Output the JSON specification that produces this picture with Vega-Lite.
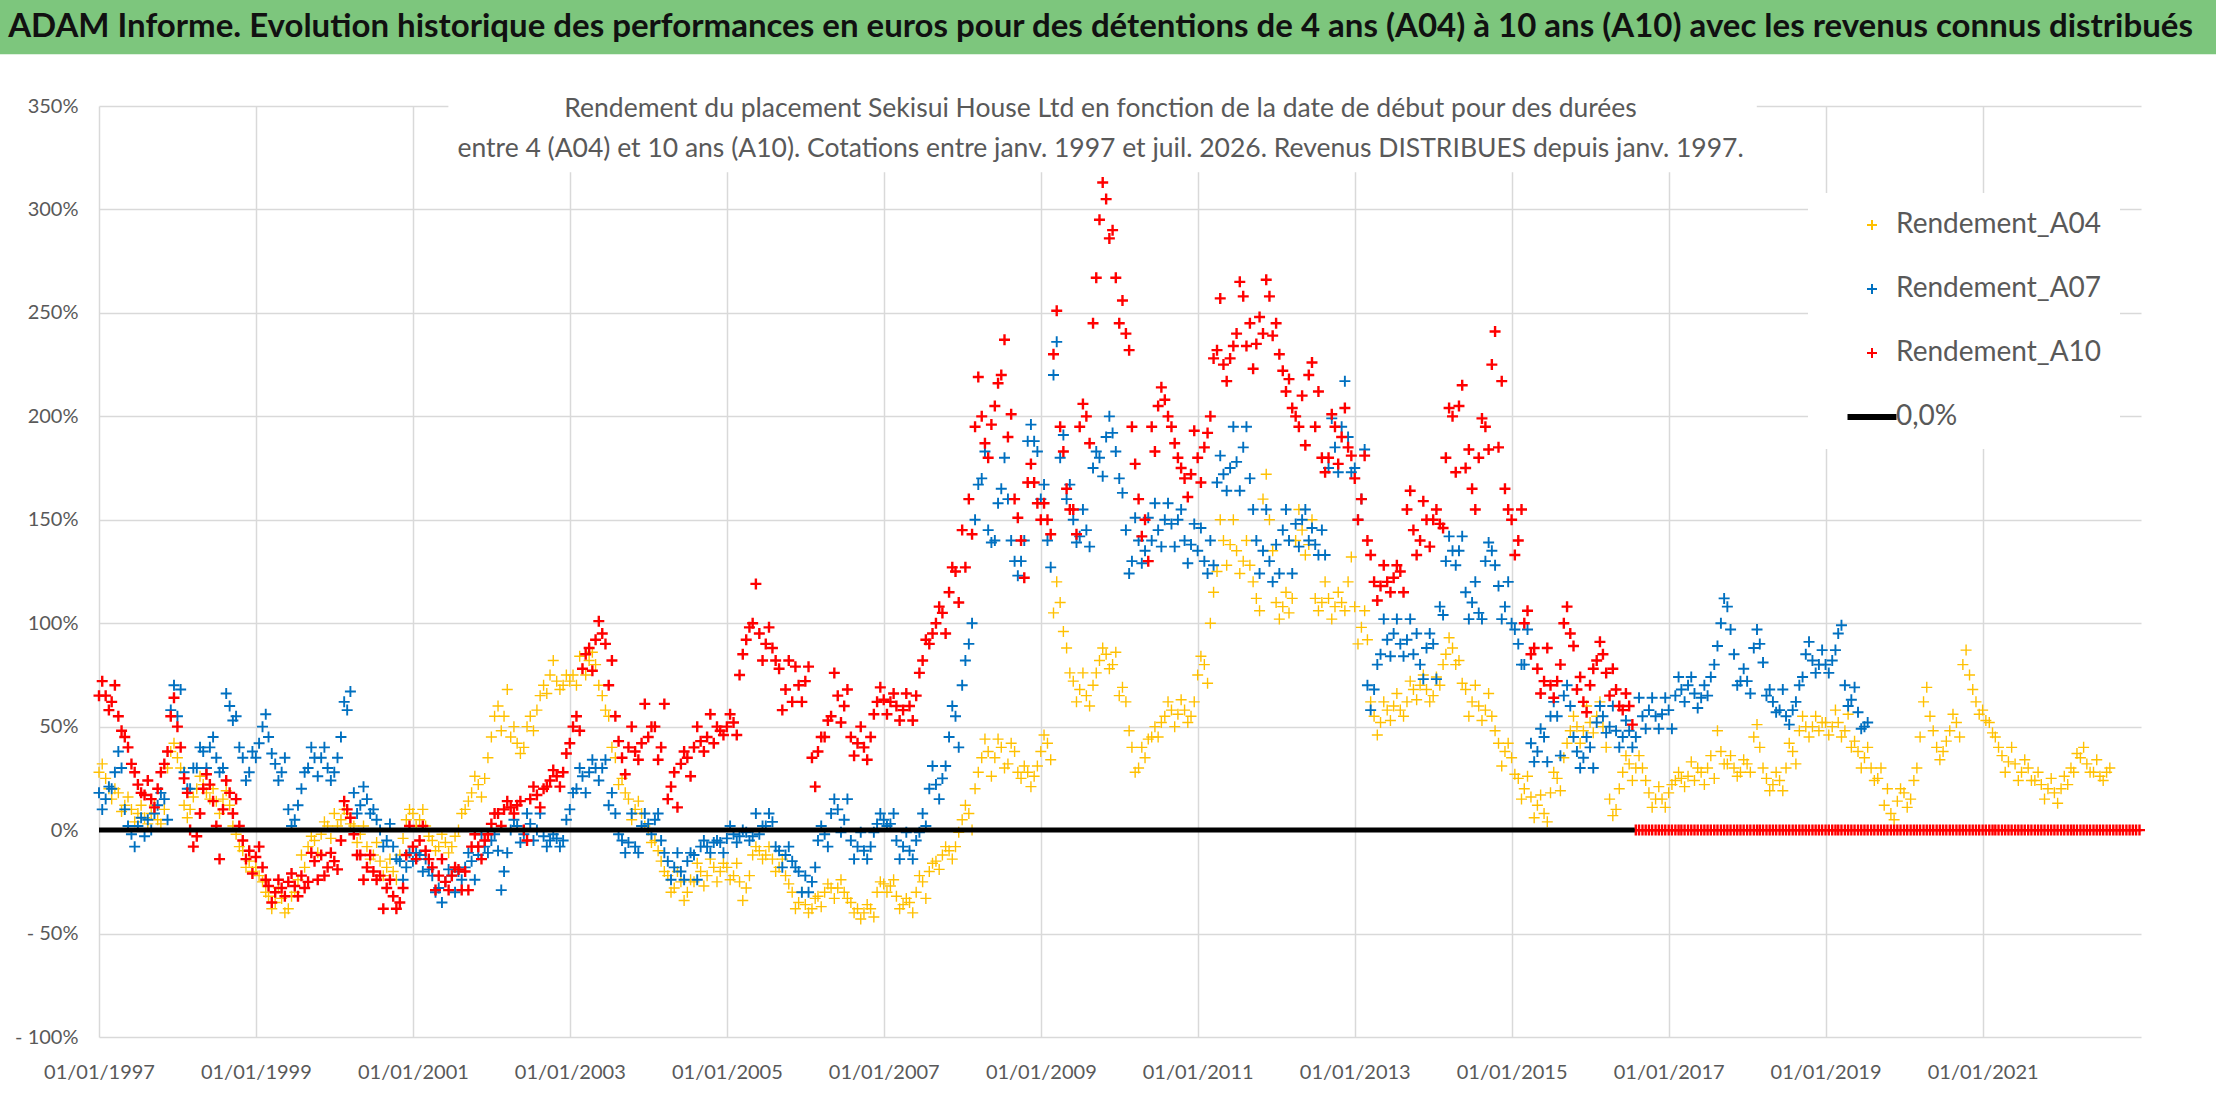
{
  "$schema": "https://vega.github.io/schema/vega-lite/v6.json",
  "width": 2042,
  "height": 931,
  "autosize": {"type": "none"},
  "padding": {"left": 99, "top": 106, "right": 75, "bottom": 65},
  "background": "white",
  "config": {"view": {"stroke": null}, "font": "Lato"},
  "layer": [
    {
      "data": {"values": [{}]},
      "mark": {"type": "rect", "color": "#7DC67D"},
      "encoding": {
        "x": {"datum": {"year": 1994, "month": 1, "date": 1}, "type": "temporal"},
        "x2": {"datum": {"year": 2026, "month": 1, "date": 1}},
        "y": {"datum": 430, "type": "quantitative"},
        "y2": {"datum": 375}
      }
    },
    {
      "data": {"values": [{}]},
      "mark": {"type": "text", "font": "Lato", "fontWeight": "bold", "fontSize": 33, "color": "#111111", "align": "center", "baseline": "middle"},
      "encoding": {
        "x": {"datum": {"year": 2009, "month": 10, "date": 6}, "type": "temporal"},
        "y": {"datum": 388, "type": "quantitative"},
        "text": {"value": "ADAM Informe. Evolution historique des performances en euros pour des détentions de 4 ans (A04) à 10 ans (A10) avec les revenus connus distribués"}
      }
    },
    {
      "data": {"values": [{}]},
      "mark": {"type": "rect", "color": "white"},
      "encoding": {
        "x": {"datum": {"year": 2001, "month": 6, "date": 15}, "type": "temporal"},
        "x2": {"datum": {"year": 2018, "month": 2, "date": 15}},
        "y": {"datum": 356, "type": "quantitative"},
        "y2": {"datum": 318}
      }
    },
    {
      "data": {"values": [{}]},
      "mark": {"type": "text", "font": "Lato", "fontSize": 26.5, "color": "#595959", "align": "center", "baseline": "middle", "lineHeight": 40},
      "encoding": {
        "x": {"datum": {"year": 2009, "month": 10, "date": 6}, "type": "temporal"},
        "y": {"datum": 348.7, "type": "quantitative"},
        "text": {"value": ["Rendement du placement Sekisui House Ltd en fonction de la date de début pour des durées", "entre 4 (A04) et 10 ans (A10). Cotations entre janv. 1997 et juil. 2026. Revenus DISTRIBUES depuis janv. 1997."]}
      }
    },
    {
      "data": {"values": [
{"s":"A04","d":"1997-01","v":28},{"s":"A04","d":"1997-02","v":25},{"s":"A04","d":"1997-03","v":15},{"s":"A04","d":"1997-04","v":18},{"s":"A04","d":"1997-05","v":12},{"s":"A04","d":"1997-06","v":10},{"s":"A04","d":"1997-07","v":8},{"s":"A04","d":"1997-08","v":6},{"s":"A04","d":"1997-09","v":8},{"s":"A04","d":"1997-10","v":5},{"s":"A04","d":"1997-11","v":10},{"s":"A04","d":"1997-12","v":38},
{"s":"A04","d":"1998-01","v":35},{"s":"A04","d":"1998-02","v":12},{"s":"A04","d":"1998-03","v":10},{"s":"A04","d":"1998-04","v":20},{"s":"A04","d":"1998-05","v":22},{"s":"A04","d":"1998-06","v":15},{"s":"A04","d":"1998-07","v":14},{"s":"A04","d":"1998-08","v":15},{"s":"A04","d":"1998-09","v":12},{"s":"A04","d":"1998-10","v":-2},{"s":"A04","d":"1998-11","v":-10},{"s":"A04","d":"1998-12","v":-15},
{"s":"A04","d":"1999-01","v":-18},{"s":"A04","d":"1999-02","v":-25},{"s":"A04","d":"1999-03","v":-32},{"s":"A04","d":"1999-04","v":-35},{"s":"A04","d":"1999-05","v":-33},{"s":"A04","d":"1999-06","v":-38},{"s":"A04","d":"1999-07","v":-30},{"s":"A04","d":"1999-08","v":-12},{"s":"A04","d":"1999-09","v":-8},{"s":"A04","d":"1999-10","v":-5},{"s":"A04","d":"1999-11","v":-2},{"s":"A04","d":"1999-12","v":2},
{"s":"A04","d":"2000-01","v":8},{"s":"A04","d":"2000-02","v":5},{"s":"A04","d":"2000-03","v":8},{"s":"A04","d":"2000-04","v":2},{"s":"A04","d":"2000-05","v":-2},{"s":"A04","d":"2000-06","v":-8},{"s":"A04","d":"2000-07","v":-12},{"s":"A04","d":"2000-08","v":-15},{"s":"A04","d":"2000-09","v":-18},{"s":"A04","d":"2000-10","v":-20},{"s":"A04","d":"2000-11","v":-12},{"s":"A04","d":"2000-12","v":5},
{"s":"A04","d":"2001-01","v":8},{"s":"A04","d":"2001-02","v":5},{"s":"A04","d":"2001-03","v":2},{"s":"A04","d":"2001-04","v":-5},{"s":"A04","d":"2001-05","v":-8},{"s":"A04","d":"2001-06","v":-6},{"s":"A04","d":"2001-07","v":-8},{"s":"A04","d":"2001-08","v":0},{"s":"A04","d":"2001-09","v":10},{"s":"A04","d":"2001-10","v":18},{"s":"A04","d":"2001-11","v":22},{"s":"A04","d":"2001-12","v":25},
{"s":"A04","d":"2002-01","v":45},{"s":"A04","d":"2002-02","v":60},{"s":"A04","d":"2002-03","v":55},{"s":"A04","d":"2002-04","v":45},{"s":"A04","d":"2002-05","v":42},{"s":"A04","d":"2002-06","v":40},{"s":"A04","d":"2002-07","v":55},{"s":"A04","d":"2002-08","v":58},{"s":"A04","d":"2002-09","v":70},{"s":"A04","d":"2002-10","v":75},{"s":"A04","d":"2002-11","v":72},{"s":"A04","d":"2002-12","v":70},
{"s":"A04","d":"2003-01","v":72},{"s":"A04","d":"2003-02","v":70},{"s":"A04","d":"2003-03","v":78},{"s":"A04","d":"2003-04","v":82},{"s":"A04","d":"2003-05","v":80},{"s":"A04","d":"2003-06","v":65},{"s":"A04","d":"2003-07","v":55},{"s":"A04","d":"2003-08","v":35},{"s":"A04","d":"2003-09","v":25},{"s":"A04","d":"2003-10","v":15},{"s":"A04","d":"2003-11","v":10},{"s":"A04","d":"2003-12","v":8},
{"s":"A04","d":"2004-01","v":0},{"s":"A04","d":"2004-02","v":-5},{"s":"A04","d":"2004-03","v":-15},{"s":"A04","d":"2004-04","v":-22},{"s":"A04","d":"2004-05","v":-28},{"s":"A04","d":"2004-06","v":-25},{"s":"A04","d":"2004-07","v":-30},{"s":"A04","d":"2004-08","v":-25},{"s":"A04","d":"2004-09","v":-20},{"s":"A04","d":"2004-10","v":-22},{"s":"A04","d":"2004-11","v":-18},{"s":"A04","d":"2004-12","v":-20},
{"s":"A04","d":"2005-01","v":-18},{"s":"A04","d":"2005-02","v":-22},{"s":"A04","d":"2005-03","v":-25},{"s":"A04","d":"2005-04","v":-28},{"s":"A04","d":"2005-05","v":-12},{"s":"A04","d":"2005-06","v":-10},{"s":"A04","d":"2005-07","v":-12},{"s":"A04","d":"2005-08","v":-14},{"s":"A04","d":"2005-09","v":-18},{"s":"A04","d":"2005-10","v":-22},{"s":"A04","d":"2005-11","v":-30},{"s":"A04","d":"2005-12","v":-35},
{"s":"A04","d":"2006-01","v":-36},{"s":"A04","d":"2006-02","v":-38},{"s":"A04","d":"2006-03","v":-32},{"s":"A04","d":"2006-04","v":-30},{"s":"A04","d":"2006-05","v":-28},{"s":"A04","d":"2006-06","v":-28},{"s":"A04","d":"2006-07","v":-30},{"s":"A04","d":"2006-08","v":-35},{"s":"A04","d":"2006-09","v":-38},{"s":"A04","d":"2006-10","v":-40},{"s":"A04","d":"2006-11","v":-38},{"s":"A04","d":"2006-12","v":-30},
{"s":"A04","d":"2007-01","v":-26},{"s":"A04","d":"2007-02","v":-27},{"s":"A04","d":"2007-03","v":-32},{"s":"A04","d":"2007-04","v":-36},{"s":"A04","d":"2007-05","v":-35},{"s":"A04","d":"2007-06","v":-30},{"s":"A04","d":"2007-07","v":-25},{"s":"A04","d":"2007-08","v":-20},{"s":"A04","d":"2007-09","v":-15},{"s":"A04","d":"2007-10","v":-12},{"s":"A04","d":"2007-11","v":-10},{"s":"A04","d":"2007-12","v":-8},
{"s":"A04","d":"2008-01","v":5},{"s":"A04","d":"2008-02","v":8},{"s":"A04","d":"2008-03","v":20},{"s":"A04","d":"2008-04","v":35},{"s":"A04","d":"2008-05","v":38},{"s":"A04","d":"2008-06","v":35},{"s":"A04","d":"2008-07","v":40},{"s":"A04","d":"2008-08","v":32},{"s":"A04","d":"2008-09","v":38},{"s":"A04","d":"2008-10","v":25},{"s":"A04","d":"2008-11","v":28},{"s":"A04","d":"2008-12","v":26},
{"s":"A04","d":"2009-01","v":38},{"s":"A04","d":"2009-02","v":42},{"s":"A04","d":"2009-03","v":105},{"s":"A04","d":"2009-04","v":110},{"s":"A04","d":"2009-05","v":88},{"s":"A04","d":"2009-06","v":72},{"s":"A04","d":"2009-07","v":68},{"s":"A04","d":"2009-08","v":65},{"s":"A04","d":"2009-09","v":70},{"s":"A04","d":"2009-10","v":82},{"s":"A04","d":"2009-11","v":85},{"s":"A04","d":"2009-12","v":80},
{"s":"A04","d":"2010-01","v":65},{"s":"A04","d":"2010-02","v":62},{"s":"A04","d":"2010-03","v":40},{"s":"A04","d":"2010-04","v":30},{"s":"A04","d":"2010-05","v":35},{"s":"A04","d":"2010-06","v":45},{"s":"A04","d":"2010-07","v":45},{"s":"A04","d":"2010-08","v":55},{"s":"A04","d":"2010-09","v":58},{"s":"A04","d":"2010-10","v":56},{"s":"A04","d":"2010-11","v":58},{"s":"A04","d":"2010-12","v":55},
{"s":"A04","d":"2011-01","v":75},{"s":"A04","d":"2011-02","v":80},{"s":"A04","d":"2011-03","v":100},{"s":"A04","d":"2011-04","v":125},{"s":"A04","d":"2011-05","v":140},{"s":"A04","d":"2011-06","v":138},{"s":"A04","d":"2011-07","v":135},{"s":"A04","d":"2011-08","v":130},{"s":"A04","d":"2011-09","v":128},{"s":"A04","d":"2011-10","v":112},{"s":"A04","d":"2011-11","v":160},{"s":"A04","d":"2011-12","v":150},
{"s":"A04","d":"2012-01","v":110},{"s":"A04","d":"2012-02","v":108},{"s":"A04","d":"2012-03","v":105},{"s":"A04","d":"2012-04","v":140},{"s":"A04","d":"2012-05","v":145},{"s":"A04","d":"2012-06","v":138},{"s":"A04","d":"2012-07","v":112},{"s":"A04","d":"2012-08","v":110},{"s":"A04","d":"2012-09","v":112},{"s":"A04","d":"2012-10","v":108},{"s":"A04","d":"2012-11","v":110},{"s":"A04","d":"2012-12","v":120},
{"s":"A04","d":"2013-01","v":108},{"s":"A04","d":"2013-02","v":98},{"s":"A04","d":"2013-03","v":92},{"s":"A04","d":"2013-04","v":55},{"s":"A04","d":"2013-05","v":52},{"s":"A04","d":"2013-06","v":58},{"s":"A04","d":"2013-07","v":60},{"s":"A04","d":"2013-08","v":58},{"s":"A04","d":"2013-09","v":62},{"s":"A04","d":"2013-10","v":68},{"s":"A04","d":"2013-11","v":70},{"s":"A04","d":"2013-12","v":68},
{"s":"A04","d":"2014-01","v":65},{"s":"A04","d":"2014-02","v":70},{"s":"A04","d":"2014-03","v":85},{"s":"A04","d":"2014-04","v":88},{"s":"A04","d":"2014-05","v":82},{"s":"A04","d":"2014-06","v":68},{"s":"A04","d":"2014-07","v":62},{"s":"A04","d":"2014-08","v":60},{"s":"A04","d":"2014-09","v":58},{"s":"A04","d":"2014-10","v":55},{"s":"A04","d":"2014-11","v":42},{"s":"A04","d":"2014-12","v":38},
{"s":"A04","d":"2015-01","v":35},{"s":"A04","d":"2015-02","v":25},{"s":"A04","d":"2015-03","v":20},{"s":"A04","d":"2015-04","v":16},{"s":"A04","d":"2015-05","v":12},{"s":"A04","d":"2015-06","v":8},{"s":"A04","d":"2015-07","v":18},{"s":"A04","d":"2015-08","v":25},{"s":"A04","d":"2015-09","v":35},{"s":"A04","d":"2015-10","v":48},{"s":"A04","d":"2015-11","v":50},{"s":"A04","d":"2015-12","v":48},
{"s":"A04","d":"2016-01","v":52},{"s":"A04","d":"2016-02","v":55},{"s":"A04","d":"2016-03","v":50},{"s":"A04","d":"2016-04","v":15},{"s":"A04","d":"2016-05","v":10},{"s":"A04","d":"2016-06","v":28},{"s":"A04","d":"2016-07","v":32},{"s":"A04","d":"2016-08","v":30},{"s":"A04","d":"2016-09","v":30},{"s":"A04","d":"2016-10","v":18},{"s":"A04","d":"2016-11","v":15},{"s":"A04","d":"2016-12","v":15},
{"s":"A04","d":"2017-01","v":18},{"s":"A04","d":"2017-02","v":24},{"s":"A04","d":"2017-03","v":25},{"s":"A04","d":"2017-04","v":26},{"s":"A04","d":"2017-05","v":24},{"s":"A04","d":"2017-06","v":28},{"s":"A04","d":"2017-07","v":30},{"s":"A04","d":"2017-08","v":25},{"s":"A04","d":"2017-09","v":38},{"s":"A04","d":"2017-10","v":32},{"s":"A04","d":"2017-11","v":30},{"s":"A04","d":"2017-12","v":28},
{"s":"A04","d":"2018-01","v":32},{"s":"A04","d":"2018-02","v":45},{"s":"A04","d":"2018-03","v":40},{"s":"A04","d":"2018-04","v":25},{"s":"A04","d":"2018-05","v":22},{"s":"A04","d":"2018-06","v":24},{"s":"A04","d":"2018-07","v":30},{"s":"A04","d":"2018-08","v":38},{"s":"A04","d":"2018-09","v":48},{"s":"A04","d":"2018-10","v":50},{"s":"A04","d":"2018-11","v":50},{"s":"A04","d":"2018-12","v":48},
{"s":"A04","d":"2019-01","v":52},{"s":"A04","d":"2019-02","v":50},{"s":"A04","d":"2019-03","v":52},{"s":"A04","d":"2019-04","v":48},{"s":"A04","d":"2019-05","v":40},{"s":"A04","d":"2019-06","v":38},{"s":"A04","d":"2019-07","v":35},{"s":"A04","d":"2019-08","v":30},{"s":"A04","d":"2019-09","v":25},{"s":"A04","d":"2019-10","v":12},{"s":"A04","d":"2019-11","v":8},{"s":"A04","d":"2019-12","v":14},
{"s":"A04","d":"2020-01","v":18},{"s":"A04","d":"2020-02","v":15},{"s":"A04","d":"2020-03","v":30},{"s":"A04","d":"2020-04","v":62},{"s":"A04","d":"2020-05","v":55},{"s":"A04","d":"2020-06","v":40},{"s":"A04","d":"2020-07","v":38},{"s":"A04","d":"2020-08","v":48},{"s":"A04","d":"2020-09","v":52},{"s":"A04","d":"2020-10","v":80},{"s":"A04","d":"2020-11","v":75},{"s":"A04","d":"2020-12","v":62},
{"s":"A04","d":"2021-01","v":58},{"s":"A04","d":"2021-02","v":52},{"s":"A04","d":"2021-03","v":45},{"s":"A04","d":"2021-04","v":36},{"s":"A04","d":"2021-05","v":33},{"s":"A04","d":"2021-06","v":32},{"s":"A04","d":"2021-07","v":28},{"s":"A04","d":"2021-08","v":30},{"s":"A04","d":"2021-09","v":24},{"s":"A04","d":"2021-10","v":22},{"s":"A04","d":"2021-11","v":20},{"s":"A04","d":"2021-12","v":18},
{"s":"A04","d":"2022-01","v":20},{"s":"A04","d":"2022-02","v":22},{"s":"A04","d":"2022-03","v":28},{"s":"A04","d":"2022-04","v":35},{"s":"A04","d":"2022-05","v":32},{"s":"A04","d":"2022-06","v":28},{"s":"A04","d":"2022-07","v":26},{"s":"A04","d":"2022-08","v":28},
{"s":"A04","d":"1997-01-16","v":32},{"s":"A04","d":"1997-02-16","v":20},{"s":"A04","d":"1997-03-16","v":20},{"s":"A04","d":"1997-04-16","v":9},{"s":"A04","d":"1997-05-16","v":16},{"s":"A04","d":"1997-06-16","v":4},{"s":"A04","d":"1997-07-16","v":12},{"s":"A04","d":"1997-08-16","v":3},{"s":"A04","d":"1997-09-16","v":12},{"s":"A04","d":"1997-10-16","v":3},{"s":"A04","d":"1997-11-16","v":30},{"s":"A04","d":"1997-12-16","v":42},
{"s":"A04","d":"1998-01-16","v":30},{"s":"A04","d":"1998-02-16","v":6},{"s":"A04","d":"1998-03-16","v":16},{"s":"A04","d":"1998-04-16","v":26},{"s":"A04","d":"1998-05-16","v":18},{"s":"A04","d":"1998-06-16","v":20},{"s":"A04","d":"1998-07-16","v":8},{"s":"A04","d":"1998-08-16","v":19},{"s":"A04","d":"1998-09-16","v":2},{"s":"A04","d":"1998-10-16","v":-8},{"s":"A04","d":"1998-11-16","v":-18},{"s":"A04","d":"1998-12-16","v":-20},
{"s":"A04","d":"1999-01-16","v":-22},{"s":"A04","d":"1999-02-16","v":-30},{"s":"A04","d":"1999-03-16","v":-38},{"s":"A04","d":"1999-04-16","v":-28},{"s":"A04","d":"1999-05-16","v":-40},{"s":"A04","d":"1999-06-16","v":-32},{"s":"A04","d":"1999-07-16","v":-24},{"s":"A04","d":"1999-08-16","v":-18},{"s":"A04","d":"1999-09-16","v":-3},{"s":"A04","d":"1999-10-16","v":-11},{"s":"A04","d":"1999-11-16","v":4},{"s":"A04","d":"1999-12-16","v":-4},
{"s":"A04","d":"2000-01-16","v":2},{"s":"A04","d":"2000-02-16","v":10},{"s":"A04","d":"2000-03-16","v":3},{"s":"A04","d":"2000-04-16","v":-6},{"s":"A04","d":"2000-05-16","v":2},{"s":"A04","d":"2000-06-16","v":-14},{"s":"A04","d":"2000-07-16","v":-6},{"s":"A04","d":"2000-08-16","v":-22},{"s":"A04","d":"2000-09-16","v":-14},{"s":"A04","d":"2000-10-16","v":-24},{"s":"A04","d":"2000-11-16","v":-4},{"s":"A04","d":"2000-12-16","v":10},
{"s":"A04","d":"2001-01-16","v":2},{"s":"A04","d":"2001-02-16","v":10},{"s":"A04","d":"2001-03-16","v":-3},{"s":"A04","d":"2001-04-16","v":-10},{"s":"A04","d":"2001-05-16","v":-2},{"s":"A04","d":"2001-06-16","v":-11},{"s":"A04","d":"2001-07-16","v":-3},{"s":"A04","d":"2001-08-16","v":8},{"s":"A04","d":"2001-09-16","v":14},{"s":"A04","d":"2001-10-16","v":26},{"s":"A04","d":"2001-11-16","v":16},{"s":"A04","d":"2001-12-16","v":35},
{"s":"A04","d":"2002-01-16","v":55},{"s":"A04","d":"2002-02-16","v":48},{"s":"A04","d":"2002-03-16","v":68},{"s":"A04","d":"2002-04-16","v":50},{"s":"A04","d":"2002-05-16","v":37},{"s":"A04","d":"2002-06-16","v":50},{"s":"A04","d":"2002-07-16","v":48},{"s":"A04","d":"2002-08-16","v":65},{"s":"A04","d":"2002-09-16","v":66},{"s":"A04","d":"2002-10-16","v":82},{"s":"A04","d":"2002-11-16","v":68},{"s":"A04","d":"2002-12-16","v":75},
{"s":"A04","d":"2003-01-16","v":75},{"s":"A04","d":"2003-02-16","v":84},{"s":"A04","d":"2003-03-16","v":75},{"s":"A04","d":"2003-04-16","v":86},{"s":"A04","d":"2003-05-16","v":70},{"s":"A04","d":"2003-06-16","v":58},{"s":"A04","d":"2003-07-16","v":40},{"s":"A04","d":"2003-08-16","v":22},{"s":"A04","d":"2003-09-16","v":18},{"s":"A04","d":"2003-10-16","v":5},{"s":"A04","d":"2003-11-16","v":14},{"s":"A04","d":"2003-12-16","v":2},
{"s":"A04","d":"2004-01-16","v":-6},{"s":"A04","d":"2004-02-16","v":-10},{"s":"A04","d":"2004-03-16","v":-20},{"s":"A04","d":"2004-04-16","v":-30},{"s":"A04","d":"2004-05-16","v":-20},{"s":"A04","d":"2004-06-16","v":-34},{"s":"A04","d":"2004-07-16","v":-24},{"s":"A04","d":"2004-08-16","v":-16},{"s":"A04","d":"2004-09-16","v":-27},{"s":"A04","d":"2004-10-16","v":-14},{"s":"A04","d":"2004-11-16","v":-25},{"s":"A04","d":"2004-12-16","v":-16},
{"s":"A04","d":"2005-01-16","v":-24},{"s":"A04","d":"2005-02-16","v":-16},{"s":"A04","d":"2005-03-16","v":-34},{"s":"A04","d":"2005-04-16","v":-22},{"s":"A04","d":"2005-05-16","v":-8},{"s":"A04","d":"2005-06-16","v":-14},{"s":"A04","d":"2005-07-16","v":-8},{"s":"A04","d":"2005-08-16","v":-20},{"s":"A04","d":"2005-09-16","v":-14},{"s":"A04","d":"2005-10-16","v":-26},{"s":"A04","d":"2005-11-16","v":-38},{"s":"A04","d":"2005-12-16","v":-30},
{"s":"A04","d":"2006-01-16","v":-40},{"s":"A04","d":"2006-02-16","v":-33},{"s":"A04","d":"2006-03-16","v":-37},{"s":"A04","d":"2006-04-16","v":-26},{"s":"A04","d":"2006-05-16","v":-33},{"s":"A04","d":"2006-06-16","v":-24},{"s":"A04","d":"2006-07-16","v":-33},{"s":"A04","d":"2006-08-16","v":-40},{"s":"A04","d":"2006-09-16","v":-43},{"s":"A04","d":"2006-10-16","v":-36},{"s":"A04","d":"2006-11-16","v":-42},{"s":"A04","d":"2006-12-16","v":-25},
{"s":"A04","d":"2007-01-16","v":-30},{"s":"A04","d":"2007-02-16","v":-24},{"s":"A04","d":"2007-03-16","v":-38},{"s":"A04","d":"2007-04-16","v":-33},{"s":"A04","d":"2007-05-16","v":-40},{"s":"A04","d":"2007-06-16","v":-22},{"s":"A04","d":"2007-07-16","v":-33},{"s":"A04","d":"2007-08-16","v":-16},{"s":"A04","d":"2007-09-16","v":-19},{"s":"A04","d":"2007-10-16","v":-8},{"s":"A04","d":"2007-11-16","v":-14},{"s":"A04","d":"2007-12-16","v":-1},
{"s":"A04","d":"2008-01-16","v":12},{"s":"A04","d":"2008-02-16","v":0},{"s":"A04","d":"2008-03-16","v":28},{"s":"A04","d":"2008-04-16","v":44},{"s":"A04","d":"2008-05-16","v":26},{"s":"A04","d":"2008-06-16","v":44},{"s":"A04","d":"2008-07-16","v":30},{"s":"A04","d":"2008-08-16","v":42},{"s":"A04","d":"2008-09-16","v":28},{"s":"A04","d":"2008-10-16","v":31},{"s":"A04","d":"2008-11-16","v":21},{"s":"A04","d":"2008-12-16","v":31},
{"s":"A04","d":"2009-01-16","v":46},{"s":"A04","d":"2009-02-16","v":34},{"s":"A04","d":"2009-03-16","v":120},{"s":"A04","d":"2009-04-16","v":96},{"s":"A04","d":"2009-05-16","v":76},{"s":"A04","d":"2009-06-16","v":62},{"s":"A04","d":"2009-07-16","v":76},{"s":"A04","d":"2009-08-16","v":60},{"s":"A04","d":"2009-09-16","v":76},{"s":"A04","d":"2009-10-16","v":88},{"s":"A04","d":"2009-11-16","v":78},{"s":"A04","d":"2009-12-16","v":86},
{"s":"A04","d":"2010-01-16","v":69},{"s":"A04","d":"2010-02-16","v":48},{"s":"A04","d":"2010-03-16","v":28},{"s":"A04","d":"2010-04-16","v":40},{"s":"A04","d":"2010-05-16","v":44},{"s":"A04","d":"2010-06-16","v":50},{"s":"A04","d":"2010-07-16","v":52},{"s":"A04","d":"2010-08-16","v":62},{"s":"A04","d":"2010-09-16","v":50},{"s":"A04","d":"2010-10-16","v":63},{"s":"A04","d":"2010-11-16","v":52},{"s":"A04","d":"2010-12-16","v":62},
{"s":"A04","d":"2011-01-16","v":84},{"s":"A04","d":"2011-02-16","v":71},{"s":"A04","d":"2011-03-16","v":115},{"s":"A04","d":"2011-04-16","v":150},{"s":"A04","d":"2011-05-16","v":128},{"s":"A04","d":"2011-06-16","v":150},{"s":"A04","d":"2011-07-16","v":124},{"s":"A04","d":"2011-08-16","v":140},{"s":"A04","d":"2011-09-16","v":120},{"s":"A04","d":"2011-10-16","v":106},{"s":"A04","d":"2011-11-16","v":172},{"s":"A04","d":"2011-12-16","v":135},
{"s":"A04","d":"2012-01-16","v":102},{"s":"A04","d":"2012-02-16","v":115},{"s":"A04","d":"2012-03-16","v":112},{"s":"A04","d":"2012-04-16","v":155},{"s":"A04","d":"2012-05-16","v":133},{"s":"A04","d":"2012-06-16","v":150},{"s":"A04","d":"2012-07-16","v":106},{"s":"A04","d":"2012-08-16","v":120},{"s":"A04","d":"2012-09-16","v":102},{"s":"A04","d":"2012-10-16","v":115},{"s":"A04","d":"2012-11-16","v":106},{"s":"A04","d":"2012-12-16","v":132},
{"s":"A04","d":"2013-01-16","v":90},{"s":"A04","d":"2013-02-16","v":106},{"s":"A04","d":"2013-03-16","v":62},{"s":"A04","d":"2013-04-16","v":46},{"s":"A04","d":"2013-05-16","v":62},{"s":"A04","d":"2013-06-16","v":53},{"s":"A04","d":"2013-07-16","v":66},{"s":"A04","d":"2013-08-16","v":55},{"s":"A04","d":"2013-09-16","v":72},{"s":"A04","d":"2013-10-16","v":63},{"s":"A04","d":"2013-11-16","v":75},{"s":"A04","d":"2013-12-16","v":62},
{"s":"A04","d":"2014-01-16","v":74},{"s":"A04","d":"2014-02-16","v":80},{"s":"A04","d":"2014-03-16","v":93},{"s":"A04","d":"2014-04-16","v":80},{"s":"A04","d":"2014-05-16","v":71},{"s":"A04","d":"2014-06-16","v":55},{"s":"A04","d":"2014-07-16","v":70},{"s":"A04","d":"2014-08-16","v":53},{"s":"A04","d":"2014-09-16","v":66},{"s":"A04","d":"2014-10-16","v":48},{"s":"A04","d":"2014-11-16","v":31},{"s":"A04","d":"2014-12-16","v":42},
{"s":"A04","d":"2015-01-16","v":27},{"s":"A04","d":"2015-02-16","v":15},{"s":"A04","d":"2015-03-16","v":26},{"s":"A04","d":"2015-04-16","v":6},{"s":"A04","d":"2015-05-16","v":17},{"s":"A04","d":"2015-06-16","v":4},{"s":"A04","d":"2015-07-16","v":28},{"s":"A04","d":"2015-08-16","v":19},{"s":"A04","d":"2015-09-16","v":42},{"s":"A04","d":"2015-10-16","v":55},{"s":"A04","d":"2015-11-16","v":42},{"s":"A04","d":"2015-12-16","v":60},
{"s":"A04","d":"2016-01-16","v":47},{"s":"A04","d":"2016-02-16","v":62},{"s":"A04","d":"2016-03-16","v":40},{"s":"A04","d":"2016-04-16","v":7},{"s":"A04","d":"2016-05-16","v":20},{"s":"A04","d":"2016-06-16","v":36},{"s":"A04","d":"2016-07-16","v":24},{"s":"A04","d":"2016-08-16","v":36},{"s":"A04","d":"2016-09-16","v":24},{"s":"A04","d":"2016-10-16","v":11},{"s":"A04","d":"2016-11-16","v":21},{"s":"A04","d":"2016-12-16","v":11},
{"s":"A04","d":"2017-01-16","v":22},{"s":"A04","d":"2017-02-16","v":28},{"s":"A04","d":"2017-03-16","v":21},{"s":"A04","d":"2017-04-16","v":33},{"s":"A04","d":"2017-05-16","v":30},{"s":"A04","d":"2017-06-16","v":22},{"s":"A04","d":"2017-07-16","v":36},{"s":"A04","d":"2017-08-16","v":48},{"s":"A04","d":"2017-09-16","v":32},{"s":"A04","d":"2017-10-16","v":36},{"s":"A04","d":"2017-11-16","v":26},{"s":"A04","d":"2017-12-16","v":34},
{"s":"A04","d":"2018-01-16","v":28},{"s":"A04","d":"2018-02-16","v":51},{"s":"A04","d":"2018-03-16","v":30},{"s":"A04","d":"2018-04-16","v":19},{"s":"A04","d":"2018-05-16","v":28},{"s":"A04","d":"2018-06-16","v":19},{"s":"A04","d":"2018-07-16","v":42},{"s":"A04","d":"2018-08-16","v":32},{"s":"A04","d":"2018-09-16","v":55},{"s":"A04","d":"2018-10-16","v":45},{"s":"A04","d":"2018-11-16","v":55},{"s":"A04","d":"2018-12-16","v":52},
{"s":"A04","d":"2019-01-16","v":46},{"s":"A04","d":"2019-02-16","v":58},{"s":"A04","d":"2019-03-16","v":45},{"s":"A04","d":"2019-04-16","v":56},{"s":"A04","d":"2019-05-16","v":43},{"s":"A04","d":"2019-06-16","v":30},{"s":"A04","d":"2019-07-16","v":40},{"s":"A04","d":"2019-08-16","v":24},{"s":"A04","d":"2019-09-16","v":30},{"s":"A04","d":"2019-10-16","v":20},{"s":"A04","d":"2019-11-16","v":5},{"s":"A04","d":"2019-12-16","v":20},
{"s":"A04","d":"2020-01-16","v":11},{"s":"A04","d":"2020-02-16","v":24},{"s":"A04","d":"2020-03-16","v":45},{"s":"A04","d":"2020-04-16","v":69},{"s":"A04","d":"2020-05-16","v":48},{"s":"A04","d":"2020-06-16","v":34},{"s":"A04","d":"2020-07-16","v":43},{"s":"A04","d":"2020-08-16","v":56},{"s":"A04","d":"2020-09-16","v":45},{"s":"A04","d":"2020-10-16","v":87},{"s":"A04","d":"2020-11-16","v":68},{"s":"A04","d":"2020-12-16","v":56},
{"s":"A04","d":"2021-01-16","v":53},{"s":"A04","d":"2021-02-16","v":47},{"s":"A04","d":"2021-03-16","v":40},{"s":"A04","d":"2021-04-16","v":28},{"s":"A04","d":"2021-05-16","v":40},{"s":"A04","d":"2021-06-16","v":24},{"s":"A04","d":"2021-07-16","v":34},{"s":"A04","d":"2021-08-16","v":24},{"s":"A04","d":"2021-09-16","v":28},{"s":"A04","d":"2021-10-16","v":15},{"s":"A04","d":"2021-11-16","v":25},{"s":"A04","d":"2021-12-16","v":13},
{"s":"A04","d":"2022-01-16","v":26},{"s":"A04","d":"2022-02-16","v":30},{"s":"A04","d":"2022-03-16","v":37},{"s":"A04","d":"2022-04-16","v":40},{"s":"A04","d":"2022-05-16","v":28},{"s":"A04","d":"2022-06-16","v":34},{"s":"A04","d":"2022-07-16","v":24},{"s":"A04","d":"2022-08-16","v":30},
{"s":"A07","d":"1997-01","v":18},{"s":"A07","d":"1997-02","v":15},{"s":"A07","d":"1997-03","v":20},{"s":"A07","d":"1997-04","v":38},{"s":"A07","d":"1997-05","v":10},{"s":"A07","d":"1997-06","v":-2},{"s":"A07","d":"1997-07","v":2},{"s":"A07","d":"1997-08","v":-3},{"s":"A07","d":"1997-09","v":0},{"s":"A07","d":"1997-10","v":12},{"s":"A07","d":"1997-11","v":15},{"s":"A07","d":"1997-12","v":58},
{"s":"A07","d":"1998-01","v":55},{"s":"A07","d":"1998-02","v":28},{"s":"A07","d":"1998-03","v":20},{"s":"A07","d":"1998-04","v":30},{"s":"A07","d":"1998-05","v":38},{"s":"A07","d":"1998-06","v":40},{"s":"A07","d":"1998-07","v":35},{"s":"A07","d":"1998-08","v":30},{"s":"A07","d":"1998-09","v":60},{"s":"A07","d":"1998-10","v":55},{"s":"A07","d":"1998-11","v":35},{"s":"A07","d":"1998-12","v":28},
{"s":"A07","d":"1999-01","v":35},{"s":"A07","d":"1999-02","v":50},{"s":"A07","d":"1999-03","v":45},{"s":"A07","d":"1999-04","v":32},{"s":"A07","d":"1999-05","v":28},{"s":"A07","d":"1999-06","v":10},{"s":"A07","d":"1999-07","v":5},{"s":"A07","d":"1999-08","v":20},{"s":"A07","d":"1999-09","v":30},{"s":"A07","d":"1999-10","v":35},{"s":"A07","d":"1999-11","v":35},{"s":"A07","d":"1999-12","v":30},
{"s":"A07","d":"2000-01","v":28},{"s":"A07","d":"2000-02","v":45},{"s":"A07","d":"2000-03","v":58},{"s":"A07","d":"2000-04","v":18},{"s":"A07","d":"2000-05","v":12},{"s":"A07","d":"2000-06","v":15},{"s":"A07","d":"2000-07","v":10},{"s":"A07","d":"2000-08","v":0},{"s":"A07","d":"2000-09","v":-5},{"s":"A07","d":"2000-10","v":-8},{"s":"A07","d":"2000-11","v":-15},{"s":"A07","d":"2000-12","v":-18},
{"s":"A07","d":"2001-01","v":-15},{"s":"A07","d":"2001-02","v":-12},{"s":"A07","d":"2001-03","v":-14},{"s":"A07","d":"2001-04","v":-22},{"s":"A07","d":"2001-05","v":-28},{"s":"A07","d":"2001-06","v":-25},{"s":"A07","d":"2001-07","v":-22},{"s":"A07","d":"2001-08","v":-20},{"s":"A07","d":"2001-09","v":-18},{"s":"A07","d":"2001-10","v":-15},{"s":"A07","d":"2001-11","v":-12},{"s":"A07","d":"2001-12","v":-8},
{"s":"A07","d":"2002-01","v":-5},{"s":"A07","d":"2002-02","v":-10},{"s":"A07","d":"2002-03","v":-20},{"s":"A07","d":"2002-04","v":0},{"s":"A07","d":"2002-05","v":2},{"s":"A07","d":"2002-06","v":-2},{"s":"A07","d":"2002-07","v":3},{"s":"A07","d":"2002-08","v":0},{"s":"A07","d":"2002-09","v":-3},{"s":"A07","d":"2002-10","v":-5},{"s":"A07","d":"2002-11","v":-4},{"s":"A07","d":"2002-12","v":-5},
{"s":"A07","d":"2003-01","v":10},{"s":"A07","d":"2003-02","v":20},{"s":"A07","d":"2003-03","v":26},{"s":"A07","d":"2003-04","v":28},{"s":"A07","d":"2003-05","v":30},{"s":"A07","d":"2003-06","v":30},{"s":"A07","d":"2003-07","v":12},{"s":"A07","d":"2003-08","v":8},{"s":"A07","d":"2003-09","v":-5},{"s":"A07","d":"2003-10","v":-6},{"s":"A07","d":"2003-11","v":-8},{"s":"A07","d":"2003-12","v":2},
{"s":"A07","d":"2004-01","v":3},{"s":"A07","d":"2004-02","v":5},{"s":"A07","d":"2004-03","v":-5},{"s":"A07","d":"2004-04","v":-15},{"s":"A07","d":"2004-05","v":-18},{"s":"A07","d":"2004-06","v":-20},{"s":"A07","d":"2004-07","v":-15},{"s":"A07","d":"2004-08","v":-12},{"s":"A07","d":"2004-09","v":-8},{"s":"A07","d":"2004-10","v":-8},{"s":"A07","d":"2004-11","v":-6},{"s":"A07","d":"2004-12","v":-6},
{"s":"A07","d":"2005-01","v":-4},{"s":"A07","d":"2005-02","v":-2},{"s":"A07","d":"2005-03","v":-3},{"s":"A07","d":"2005-04","v":-1},{"s":"A07","d":"2005-05","v":-3},{"s":"A07","d":"2005-06","v":-2},{"s":"A07","d":"2005-07","v":2},{"s":"A07","d":"2005-08","v":4},{"s":"A07","d":"2005-09","v":-10},{"s":"A07","d":"2005-10","v":-12},{"s":"A07","d":"2005-11","v":-15},{"s":"A07","d":"2005-12","v":-20},
{"s":"A07","d":"2006-01","v":-22},{"s":"A07","d":"2006-02","v":-25},{"s":"A07","d":"2006-03","v":-5},{"s":"A07","d":"2006-04","v":-2},{"s":"A07","d":"2006-05","v":8},{"s":"A07","d":"2006-06","v":10},{"s":"A07","d":"2006-07","v":5},{"s":"A07","d":"2006-08","v":-5},{"s":"A07","d":"2006-09","v":-8},{"s":"A07","d":"2006-10","v":-10},{"s":"A07","d":"2006-11","v":-8},{"s":"A07","d":"2006-12","v":3},
{"s":"A07","d":"2007-01","v":5},{"s":"A07","d":"2007-02","v":3},{"s":"A07","d":"2007-03","v":-5},{"s":"A07","d":"2007-04","v":-8},{"s":"A07","d":"2007-05","v":-10},{"s":"A07","d":"2007-06","v":-5},{"s":"A07","d":"2007-07","v":8},{"s":"A07","d":"2007-08","v":20},{"s":"A07","d":"2007-09","v":22},{"s":"A07","d":"2007-10","v":25},{"s":"A07","d":"2007-11","v":45},{"s":"A07","d":"2007-12","v":55},
{"s":"A07","d":"2008-01","v":70},{"s":"A07","d":"2008-02","v":90},{"s":"A07","d":"2008-03","v":150},{"s":"A07","d":"2008-04","v":170},{"s":"A07","d":"2008-05","v":145},{"s":"A07","d":"2008-06","v":140},{"s":"A07","d":"2008-07","v":165},{"s":"A07","d":"2008-08","v":160},{"s":"A07","d":"2008-09","v":130},{"s":"A07","d":"2008-10","v":130},{"s":"A07","d":"2008-11","v":188},{"s":"A07","d":"2008-12","v":188},
{"s":"A07","d":"2009-01","v":160},{"s":"A07","d":"2009-02","v":140},{"s":"A07","d":"2009-03","v":220},{"s":"A07","d":"2009-04","v":180},{"s":"A07","d":"2009-05","v":160},{"s":"A07","d":"2009-06","v":150},{"s":"A07","d":"2009-07","v":142},{"s":"A07","d":"2009-08","v":145},{"s":"A07","d":"2009-09","v":175},{"s":"A07","d":"2009-10","v":180},{"s":"A07","d":"2009-11","v":190},{"s":"A07","d":"2009-12","v":192},
{"s":"A07","d":"2010-01","v":170},{"s":"A07","d":"2010-02","v":145},{"s":"A07","d":"2010-03","v":130},{"s":"A07","d":"2010-04","v":140},{"s":"A07","d":"2010-05","v":135},{"s":"A07","d":"2010-06","v":140},{"s":"A07","d":"2010-07","v":145},{"s":"A07","d":"2010-08","v":150},{"s":"A07","d":"2010-09","v":148},{"s":"A07","d":"2010-10","v":150},{"s":"A07","d":"2010-11","v":140},{"s":"A07","d":"2010-12","v":138},
{"s":"A07","d":"2011-01","v":135},{"s":"A07","d":"2011-02","v":130},{"s":"A07","d":"2011-03","v":140},{"s":"A07","d":"2011-04","v":168},{"s":"A07","d":"2011-05","v":172},{"s":"A07","d":"2011-06","v":175},{"s":"A07","d":"2011-07","v":178},{"s":"A07","d":"2011-08","v":185},{"s":"A07","d":"2011-09","v":170},{"s":"A07","d":"2011-10","v":140},{"s":"A07","d":"2011-11","v":135},{"s":"A07","d":"2011-12","v":130},
{"s":"A07","d":"2012-01","v":138},{"s":"A07","d":"2012-02","v":145},{"s":"A07","d":"2012-03","v":140},{"s":"A07","d":"2012-04","v":148},{"s":"A07","d":"2012-05","v":150},{"s":"A07","d":"2012-06","v":140},{"s":"A07","d":"2012-07","v":138},{"s":"A07","d":"2012-08","v":145},{"s":"A07","d":"2012-09","v":175},{"s":"A07","d":"2012-10","v":185},{"s":"A07","d":"2012-11","v":195},{"s":"A07","d":"2012-12","v":190},
{"s":"A07","d":"2013-01","v":175},{"s":"A07","d":"2013-02","v":160},{"s":"A07","d":"2013-03","v":70},{"s":"A07","d":"2013-04","v":68},{"s":"A07","d":"2013-05","v":85},{"s":"A07","d":"2013-06","v":92},{"s":"A07","d":"2013-07","v":95},{"s":"A07","d":"2013-08","v":90},{"s":"A07","d":"2013-09","v":92},{"s":"A07","d":"2013-10","v":85},{"s":"A07","d":"2013-11","v":80},{"s":"A07","d":"2013-12","v":88},
{"s":"A07","d":"2014-01","v":90},{"s":"A07","d":"2014-02","v":108},{"s":"A07","d":"2014-03","v":130},{"s":"A07","d":"2014-04","v":135},{"s":"A07","d":"2014-05","v":135},{"s":"A07","d":"2014-06","v":115},{"s":"A07","d":"2014-07","v":110},{"s":"A07","d":"2014-08","v":105},{"s":"A07","d":"2014-09","v":130},{"s":"A07","d":"2014-10","v":135},{"s":"A07","d":"2014-11","v":118},{"s":"A07","d":"2014-12","v":108},
{"s":"A07","d":"2015-01","v":100},{"s":"A07","d":"2015-02","v":90},{"s":"A07","d":"2015-03","v":80},{"s":"A07","d":"2015-04","v":42},{"s":"A07","d":"2015-05","v":38},{"s":"A07","d":"2015-06","v":45},{"s":"A07","d":"2015-07","v":55},{"s":"A07","d":"2015-08","v":55},{"s":"A07","d":"2015-09","v":65},{"s":"A07","d":"2015-10","v":60},{"s":"A07","d":"2015-11","v":38},{"s":"A07","d":"2015-12","v":35},
{"s":"A07","d":"2016-01","v":40},{"s":"A07","d":"2016-02","v":52},{"s":"A07","d":"2016-03","v":55},{"s":"A07","d":"2016-04","v":50},{"s":"A07","d":"2016-05","v":48},{"s":"A07","d":"2016-06","v":45},{"s":"A07","d":"2016-07","v":48},{"s":"A07","d":"2016-08","v":45},{"s":"A07","d":"2016-09","v":55},{"s":"A07","d":"2016-10","v":58},{"s":"A07","d":"2016-11","v":55},{"s":"A07","d":"2016-12","v":56},
{"s":"A07","d":"2017-01","v":58},{"s":"A07","d":"2017-02","v":65},{"s":"A07","d":"2017-03","v":68},{"s":"A07","d":"2017-04","v":70},{"s":"A07","d":"2017-05","v":66},{"s":"A07","d":"2017-06","v":64},{"s":"A07","d":"2017-07","v":65},{"s":"A07","d":"2017-08","v":80},{"s":"A07","d":"2017-09","v":100},{"s":"A07","d":"2017-10","v":108},{"s":"A07","d":"2017-11","v":85},{"s":"A07","d":"2017-12","v":72},
{"s":"A07","d":"2018-01","v":72},{"s":"A07","d":"2018-02","v":88},{"s":"A07","d":"2018-03","v":90},{"s":"A07","d":"2018-04","v":65},{"s":"A07","d":"2018-05","v":62},{"s":"A07","d":"2018-06","v":58},{"s":"A07","d":"2018-07","v":55},{"s":"A07","d":"2018-08","v":58},{"s":"A07","d":"2018-09","v":70},{"s":"A07","d":"2018-10","v":85},{"s":"A07","d":"2018-11","v":82},{"s":"A07","d":"2018-12","v":80},
{"s":"A07","d":"2019-01","v":80},{"s":"A07","d":"2019-02","v":82},{"s":"A07","d":"2019-03","v":95},{"s":"A07","d":"2019-04","v":70},{"s":"A07","d":"2019-05","v":63},{"s":"A07","d":"2019-06","v":57},{"s":"A07","d":"2019-07","v":50},
{"s":"A07","d":"1997-01-16","v":10},{"s":"A07","d":"1997-02-16","v":21},{"s":"A07","d":"1997-03-16","v":28},{"s":"A07","d":"1997-04-16","v":30},{"s":"A07","d":"1997-05-16","v":2},{"s":"A07","d":"1997-06-16","v":-8},{"s":"A07","d":"1997-07-16","v":6},{"s":"A07","d":"1997-08-16","v":5},{"s":"A07","d":"1997-09-16","v":8},{"s":"A07","d":"1997-10-16","v":18},{"s":"A07","d":"1997-11-16","v":5},{"s":"A07","d":"1997-12-16","v":70},
{"s":"A07","d":"1998-01-16","v":68},{"s":"A07","d":"1998-02-16","v":20},{"s":"A07","d":"1998-03-16","v":30},{"s":"A07","d":"1998-04-16","v":40},{"s":"A07","d":"1998-05-16","v":30},{"s":"A07","d":"1998-06-16","v":45},{"s":"A07","d":"1998-07-16","v":28},{"s":"A07","d":"1998-08-16","v":66},{"s":"A07","d":"1998-09-16","v":53},{"s":"A07","d":"1998-10-16","v":40},{"s":"A07","d":"1998-11-16","v":24},{"s":"A07","d":"1998-12-16","v":38},
{"s":"A07","d":"1999-01-16","v":42},{"s":"A07","d":"1999-02-16","v":56},{"s":"A07","d":"1999-03-16","v":37},{"s":"A07","d":"1999-04-16","v":24},{"s":"A07","d":"1999-05-16","v":35},{"s":"A07","d":"1999-06-16","v":2},{"s":"A07","d":"1999-07-16","v":12},{"s":"A07","d":"1999-08-16","v":28},{"s":"A07","d":"1999-09-16","v":40},{"s":"A07","d":"1999-10-16","v":26},{"s":"A07","d":"1999-11-16","v":40},{"s":"A07","d":"1999-12-16","v":24},
{"s":"A07","d":"2000-01-16","v":35},{"s":"A07","d":"2000-02-16","v":62},{"s":"A07","d":"2000-03-16","v":67},{"s":"A07","d":"2000-04-16","v":8},{"s":"A07","d":"2000-05-16","v":21},{"s":"A07","d":"2000-06-16","v":8},{"s":"A07","d":"2000-07-16","v":5},{"s":"A07","d":"2000-08-16","v":-8},{"s":"A07","d":"2000-09-16","v":3},{"s":"A07","d":"2000-10-16","v":-14},{"s":"A07","d":"2000-11-16","v":-24},{"s":"A07","d":"2000-12-16","v":-11},
{"s":"A07","d":"2001-01-16","v":-11},{"s":"A07","d":"2001-02-16","v":-20},{"s":"A07","d":"2001-03-16","v":-19},{"s":"A07","d":"2001-04-16","v":-30},{"s":"A07","d":"2001-05-16","v":-35},{"s":"A07","d":"2001-06-16","v":-19},{"s":"A07","d":"2001-07-16","v":-30},{"s":"A07","d":"2001-08-16","v":-24},{"s":"A07","d":"2001-09-16","v":-11},{"s":"A07","d":"2001-10-16","v":-24},{"s":"A07","d":"2001-11-16","v":-2},{"s":"A07","d":"2001-12-16","v":-11},
{"s":"A07","d":"2002-01-16","v":-2},{"s":"A07","d":"2002-02-16","v":-29},{"s":"A07","d":"2002-03-16","v":-11},{"s":"A07","d":"2002-04-16","v":5},{"s":"A07","d":"2002-05-16","v":-6},{"s":"A07","d":"2002-06-16","v":8},{"s":"A07","d":"2002-07-16","v":-5},{"s":"A07","d":"2002-08-16","v":8},{"s":"A07","d":"2002-09-16","v":-8},{"s":"A07","d":"2002-10-16","v":-2},{"s":"A07","d":"2002-11-16","v":-8},{"s":"A07","d":"2002-12-16","v":5},
{"s":"A07","d":"2003-01-16","v":18},{"s":"A07","d":"2003-02-16","v":30},{"s":"A07","d":"2003-03-16","v":18},{"s":"A07","d":"2003-04-16","v":34},{"s":"A07","d":"2003-05-16","v":24},{"s":"A07","d":"2003-06-16","v":34},{"s":"A07","d":"2003-07-16","v":18},{"s":"A07","d":"2003-08-16","v":-2},{"s":"A07","d":"2003-09-16","v":-11},{"s":"A07","d":"2003-10-16","v":8},{"s":"A07","d":"2003-11-16","v":-11},{"s":"A07","d":"2003-12-16","v":8},
{"s":"A07","d":"2004-01-16","v":-2},{"s":"A07","d":"2004-02-16","v":8},{"s":"A07","d":"2004-03-16","v":-11},{"s":"A07","d":"2004-04-16","v":-24},{"s":"A07","d":"2004-05-16","v":-11},{"s":"A07","d":"2004-06-16","v":-24},{"s":"A07","d":"2004-07-16","v":-11},{"s":"A07","d":"2004-08-16","v":-24},{"s":"A07","d":"2004-09-16","v":-5},{"s":"A07","d":"2004-10-16","v":-11},{"s":"A07","d":"2004-11-16","v":-5},{"s":"A07","d":"2004-12-16","v":-11},
{"s":"A07","d":"2005-01-16","v":2},{"s":"A07","d":"2005-02-16","v":-6},{"s":"A07","d":"2005-03-16","v":0},{"s":"A07","d":"2005-04-16","v":-5},{"s":"A07","d":"2005-05-16","v":8},{"s":"A07","d":"2005-06-16","v":2},{"s":"A07","d":"2005-07-16","v":8},{"s":"A07","d":"2005-08-16","v":-8},{"s":"A07","d":"2005-09-16","v":-18},{"s":"A07","d":"2005-10-16","v":-8},{"s":"A07","d":"2005-11-16","v":-18},{"s":"A07","d":"2005-12-16","v":-30},
{"s":"A07","d":"2006-01-16","v":-30},{"s":"A07","d":"2006-02-16","v":-18},{"s":"A07","d":"2006-03-16","v":2},{"s":"A07","d":"2006-04-16","v":-8},{"s":"A07","d":"2006-05-16","v":15},{"s":"A07","d":"2006-06-16","v":-1},{"s":"A07","d":"2006-07-16","v":15},{"s":"A07","d":"2006-08-16","v":-14},{"s":"A07","d":"2006-09-16","v":-1},{"s":"A07","d":"2006-10-16","v":-14},{"s":"A07","d":"2006-11-16","v":-1},{"s":"A07","d":"2006-12-16","v":8},
{"s":"A07","d":"2007-01-16","v":2},{"s":"A07","d":"2007-02-16","v":8},{"s":"A07","d":"2007-03-16","v":-14},{"s":"A07","d":"2007-04-16","v":-1},{"s":"A07","d":"2007-05-16","v":-14},{"s":"A07","d":"2007-06-16","v":-1},{"s":"A07","d":"2007-07-16","v":2},{"s":"A07","d":"2007-08-16","v":31},{"s":"A07","d":"2007-09-16","v":15},{"s":"A07","d":"2007-10-16","v":31},{"s":"A07","d":"2007-11-16","v":60},{"s":"A07","d":"2007-12-16","v":40},
{"s":"A07","d":"2008-01-16","v":82},{"s":"A07","d":"2008-02-16","v":100},{"s":"A07","d":"2008-03-16","v":167},{"s":"A07","d":"2008-04-16","v":183},{"s":"A07","d":"2008-05-16","v":139},{"s":"A07","d":"2008-06-16","v":158},{"s":"A07","d":"2008-07-16","v":180},{"s":"A07","d":"2008-08-16","v":140},{"s":"A07","d":"2008-09-16","v":123},{"s":"A07","d":"2008-10-16","v":140},{"s":"A07","d":"2008-11-16","v":196},{"s":"A07","d":"2008-12-16","v":183},
{"s":"A07","d":"2009-01-16","v":167},{"s":"A07","d":"2009-02-16","v":127},{"s":"A07","d":"2009-03-16","v":236},{"s":"A07","d":"2009-04-16","v":191},{"s":"A07","d":"2009-05-16","v":167},{"s":"A07","d":"2009-06-16","v":139},{"s":"A07","d":"2009-07-16","v":155},{"s":"A07","d":"2009-08-16","v":137},{"s":"A07","d":"2009-09-16","v":183},{"s":"A07","d":"2009-10-16","v":171},{"s":"A07","d":"2009-11-16","v":200},{"s":"A07","d":"2009-12-16","v":183},
{"s":"A07","d":"2010-01-16","v":163},{"s":"A07","d":"2010-02-16","v":124},{"s":"A07","d":"2010-03-16","v":151},{"s":"A07","d":"2010-04-16","v":129},{"s":"A07","d":"2010-05-16","v":151},{"s":"A07","d":"2010-06-16","v":158},{"s":"A07","d":"2010-07-16","v":137},{"s":"A07","d":"2010-08-16","v":158},{"s":"A07","d":"2010-09-16","v":137},{"s":"A07","d":"2010-10-16","v":155},{"s":"A07","d":"2010-11-16","v":129},{"s":"A07","d":"2010-12-16","v":148},
{"s":"A07","d":"2011-01-16","v":146},{"s":"A07","d":"2011-02-16","v":124},{"s":"A07","d":"2011-03-16","v":128},{"s":"A07","d":"2011-04-16","v":181},{"s":"A07","d":"2011-05-16","v":164},{"s":"A07","d":"2011-06-16","v":195},{"s":"A07","d":"2011-07-16","v":164},{"s":"A07","d":"2011-08-16","v":195},{"s":"A07","d":"2011-09-16","v":155},{"s":"A07","d":"2011-10-16","v":124},{"s":"A07","d":"2011-11-16","v":155},{"s":"A07","d":"2011-12-16","v":120},
{"s":"A07","d":"2012-01-16","v":124},{"s":"A07","d":"2012-02-16","v":155},{"s":"A07","d":"2012-03-16","v":124},{"s":"A07","d":"2012-04-16","v":137},{"s":"A07","d":"2012-05-16","v":155},{"s":"A07","d":"2012-06-16","v":146},{"s":"A07","d":"2012-07-16","v":133},{"s":"A07","d":"2012-08-16","v":133},{"s":"A07","d":"2012-09-16","v":199},{"s":"A07","d":"2012-10-16","v":173},{"s":"A07","d":"2012-11-16","v":217},{"s":"A07","d":"2012-12-16","v":173},
{"s":"A07","d":"2013-01-16","v":150},{"s":"A07","d":"2013-02-16","v":184},{"s":"A07","d":"2013-03-16","v":58},{"s":"A07","d":"2013-04-16","v":80},{"s":"A07","d":"2013-05-16","v":102},{"s":"A07","d":"2013-06-16","v":84},{"s":"A07","d":"2013-07-16","v":102},{"s":"A07","d":"2013-08-16","v":84},{"s":"A07","d":"2013-09-16","v":102},{"s":"A07","d":"2013-10-16","v":95},{"s":"A07","d":"2013-11-16","v":73},{"s":"A07","d":"2013-12-16","v":95},
{"s":"A07","d":"2014-01-16","v":73},{"s":"A07","d":"2014-02-16","v":104},{"s":"A07","d":"2014-03-16","v":142},{"s":"A07","d":"2014-04-16","v":128},{"s":"A07","d":"2014-05-16","v":142},{"s":"A07","d":"2014-06-16","v":102},{"s":"A07","d":"2014-07-16","v":120},{"s":"A07","d":"2014-08-16","v":102},{"s":"A07","d":"2014-09-16","v":139},{"s":"A07","d":"2014-10-16","v":128},{"s":"A07","d":"2014-11-16","v":102},{"s":"A07","d":"2014-12-16","v":120},
{"s":"A07","d":"2015-01-16","v":97},{"s":"A07","d":"2015-02-16","v":80},{"s":"A07","d":"2015-03-16","v":97},{"s":"A07","d":"2015-04-16","v":33},{"s":"A07","d":"2015-05-16","v":49},{"s":"A07","d":"2015-06-16","v":33},{"s":"A07","d":"2015-07-16","v":62},{"s":"A07","d":"2015-08-16","v":36},{"s":"A07","d":"2015-09-16","v":70},{"s":"A07","d":"2015-10-16","v":45},{"s":"A07","d":"2015-11-16","v":30},{"s":"A07","d":"2015-12-16","v":45},
{"s":"A07","d":"2016-01-16","v":30},{"s":"A07","d":"2016-02-16","v":60},{"s":"A07","d":"2016-03-16","v":47},{"s":"A07","d":"2016-04-16","v":60},{"s":"A07","d":"2016-05-16","v":40},{"s":"A07","d":"2016-06-16","v":53},{"s":"A07","d":"2016-07-16","v":40},{"s":"A07","d":"2016-08-16","v":64},{"s":"A07","d":"2016-09-16","v":49},{"s":"A07","d":"2016-10-16","v":64},{"s":"A07","d":"2016-11-16","v":49},{"s":"A07","d":"2016-12-16","v":64},
{"s":"A07","d":"2017-01-16","v":49},{"s":"A07","d":"2017-02-16","v":74},{"s":"A07","d":"2017-03-16","v":62},{"s":"A07","d":"2017-04-16","v":74},{"s":"A07","d":"2017-05-16","v":59},{"s":"A07","d":"2017-06-16","v":70},{"s":"A07","d":"2017-07-16","v":74},{"s":"A07","d":"2017-08-16","v":89},{"s":"A07","d":"2017-09-16","v":112},{"s":"A07","d":"2017-10-16","v":97},{"s":"A07","d":"2017-11-16","v":70},{"s":"A07","d":"2017-12-16","v":78},
{"s":"A07","d":"2018-01-16","v":66},{"s":"A07","d":"2018-02-16","v":97},{"s":"A07","d":"2018-03-16","v":81},{"s":"A07","d":"2018-04-16","v":68},{"s":"A07","d":"2018-05-16","v":57},{"s":"A07","d":"2018-06-16","v":68},{"s":"A07","d":"2018-07-16","v":51},{"s":"A07","d":"2018-08-16","v":62},{"s":"A07","d":"2018-09-16","v":74},{"s":"A07","d":"2018-10-16","v":91},{"s":"A07","d":"2018-11-16","v":76},{"s":"A07","d":"2018-12-16","v":87},
{"s":"A07","d":"2019-01-16","v":76},{"s":"A07","d":"2019-02-16","v":87},{"s":"A07","d":"2019-03-16","v":99},{"s":"A07","d":"2019-04-16","v":60},{"s":"A07","d":"2019-05-16","v":69},{"s":"A07","d":"2019-06-16","v":49},{"s":"A07","d":"2019-07-16","v":52},
{"s":"A10","d":"1997-01","v":65},{"s":"A10","d":"1997-02","v":65},{"s":"A10","d":"1997-03","v":62},{"s":"A10","d":"1997-04","v":55},{"s":"A10","d":"1997-05","v":45},{"s":"A10","d":"1997-06","v":32},{"s":"A10","d":"1997-07","v":22},{"s":"A10","d":"1997-08","v":17},{"s":"A10","d":"1997-09","v":15},{"s":"A10","d":"1997-10","v":20},{"s":"A10","d":"1997-11","v":32},{"s":"A10","d":"1997-12","v":55},
{"s":"A10","d":"1998-01","v":50},{"s":"A10","d":"1998-02","v":25},{"s":"A10","d":"1998-03","v":0},{"s":"A10","d":"1998-04","v":-3},{"s":"A10","d":"1998-05","v":20},{"s":"A10","d":"1998-06","v":22},{"s":"A10","d":"1998-07","v":2},{"s":"A10","d":"1998-08","v":10},{"s":"A10","d":"1998-09","v":18},{"s":"A10","d":"1998-10","v":15},{"s":"A10","d":"1998-11","v":-5},{"s":"A10","d":"1998-12","v":-10},
{"s":"A10","d":"1999-01","v":-13},{"s":"A10","d":"1999-02","v":-18},{"s":"A10","d":"1999-03","v":-27},{"s":"A10","d":"1999-04","v":-30},{"s":"A10","d":"1999-05","v":-28},{"s":"A10","d":"1999-06","v":-25},{"s":"A10","d":"1999-07","v":-27},{"s":"A10","d":"1999-08","v":-22},{"s":"A10","d":"1999-09","v":-25},{"s":"A10","d":"1999-10","v":-15},{"s":"A10","d":"1999-11","v":-12},{"s":"A10","d":"1999-12","v":-18},
{"s":"A10","d":"2000-01","v":-15},{"s":"A10","d":"2000-02","v":-5},{"s":"A10","d":"2000-03","v":10},{"s":"A10","d":"2000-04","v":-2},{"s":"A10","d":"2000-05","v":-12},{"s":"A10","d":"2000-06","v":-18},{"s":"A10","d":"2000-07","v":-20},{"s":"A10","d":"2000-08","v":-22},{"s":"A10","d":"2000-09","v":-28},{"s":"A10","d":"2000-10","v":-32},{"s":"A10","d":"2000-11","v":-35},{"s":"A10","d":"2000-12","v":-12},
{"s":"A10","d":"2001-01","v":-8},{"s":"A10","d":"2001-02","v":-5},{"s":"A10","d":"2001-03","v":-10},{"s":"A10","d":"2001-04","v":-18},{"s":"A10","d":"2001-05","v":-22},{"s":"A10","d":"2001-06","v":-25},{"s":"A10","d":"2001-07","v":-22},{"s":"A10","d":"2001-08","v":-19},{"s":"A10","d":"2001-09","v":-20},{"s":"A10","d":"2001-10","v":-8},{"s":"A10","d":"2001-11","v":-8},{"s":"A10","d":"2001-12","v":-5},
{"s":"A10","d":"2002-01","v":3},{"s":"A10","d":"2002-02","v":8},{"s":"A10","d":"2002-03","v":10},{"s":"A10","d":"2002-04","v":11},{"s":"A10","d":"2002-05","v":12},{"s":"A10","d":"2002-06","v":0},{"s":"A10","d":"2002-07","v":15},{"s":"A10","d":"2002-08","v":17},{"s":"A10","d":"2002-09","v":20},{"s":"A10","d":"2002-10","v":24},{"s":"A10","d":"2002-11","v":26},{"s":"A10","d":"2002-12","v":28},
{"s":"A10","d":"2003-01","v":42},{"s":"A10","d":"2003-02","v":55},{"s":"A10","d":"2003-03","v":78},{"s":"A10","d":"2003-04","v":88},{"s":"A10","d":"2003-05","v":92},{"s":"A10","d":"2003-06","v":95},{"s":"A10","d":"2003-07","v":70},{"s":"A10","d":"2003-08","v":55},{"s":"A10","d":"2003-09","v":35},{"s":"A10","d":"2003-10","v":40},{"s":"A10","d":"2003-11","v":38},{"s":"A10","d":"2003-12","v":42},
{"s":"A10","d":"2004-01","v":45},{"s":"A10","d":"2004-02","v":50},{"s":"A10","d":"2004-03","v":40},{"s":"A10","d":"2004-04","v":15},{"s":"A10","d":"2004-05","v":28},{"s":"A10","d":"2004-06","v":32},{"s":"A10","d":"2004-07","v":35},{"s":"A10","d":"2004-08","v":40},{"s":"A10","d":"2004-09","v":43},{"s":"A10","d":"2004-10","v":45},{"s":"A10","d":"2004-11","v":42},{"s":"A10","d":"2004-12","v":48},
{"s":"A10","d":"2005-01","v":50},{"s":"A10","d":"2005-02","v":52},{"s":"A10","d":"2005-03","v":75},{"s":"A10","d":"2005-04","v":92},{"s":"A10","d":"2005-05","v":100},{"s":"A10","d":"2005-06","v":95},{"s":"A10","d":"2005-07","v":90},{"s":"A10","d":"2005-08","v":88},{"s":"A10","d":"2005-09","v":78},{"s":"A10","d":"2005-10","v":68},{"s":"A10","d":"2005-11","v":62},{"s":"A10","d":"2005-12","v":70},
{"s":"A10","d":"2006-01","v":72},{"s":"A10","d":"2006-02","v":35},{"s":"A10","d":"2006-03","v":38},{"s":"A10","d":"2006-04","v":45},{"s":"A10","d":"2006-05","v":55},{"s":"A10","d":"2006-06","v":65},{"s":"A10","d":"2006-07","v":60},{"s":"A10","d":"2006-08","v":45},{"s":"A10","d":"2006-09","v":42},{"s":"A10","d":"2006-10","v":40},{"s":"A10","d":"2006-11","v":45},{"s":"A10","d":"2006-12","v":62},
{"s":"A10","d":"2007-01","v":63},{"s":"A10","d":"2007-02","v":62},{"s":"A10","d":"2007-03","v":60},{"s":"A10","d":"2007-04","v":58},{"s":"A10","d":"2007-05","v":60},{"s":"A10","d":"2007-06","v":65},{"s":"A10","d":"2007-07","v":82},{"s":"A10","d":"2007-08","v":90},{"s":"A10","d":"2007-09","v":100},{"s":"A10","d":"2007-10","v":105},{"s":"A10","d":"2007-11","v":115},{"s":"A10","d":"2007-12","v":125},
{"s":"A10","d":"2008-01","v":145},{"s":"A10","d":"2008-02","v":160},{"s":"A10","d":"2008-03","v":195},{"s":"A10","d":"2008-04","v":200},{"s":"A10","d":"2008-05","v":180},{"s":"A10","d":"2008-06","v":205},{"s":"A10","d":"2008-07","v":220},{"s":"A10","d":"2008-08","v":190},{"s":"A10","d":"2008-09","v":160},{"s":"A10","d":"2008-10","v":140},{"s":"A10","d":"2008-11","v":168},{"s":"A10","d":"2008-12","v":168},
{"s":"A10","d":"2009-01","v":150},{"s":"A10","d":"2009-02","v":150},{"s":"A10","d":"2009-03","v":230},{"s":"A10","d":"2009-04","v":195},{"s":"A10","d":"2009-05","v":165},{"s":"A10","d":"2009-06","v":155},{"s":"A10","d":"2009-07","v":195},{"s":"A10","d":"2009-08","v":200},{"s":"A10","d":"2009-09","v":245},{"s":"A10","d":"2009-10","v":295},{"s":"A10","d":"2009-11","v":305},{"s":"A10","d":"2009-12","v":290},
{"s":"A10","d":"2010-01","v":245},{"s":"A10","d":"2010-02","v":240},{"s":"A10","d":"2010-03","v":195},{"s":"A10","d":"2010-04","v":160},{"s":"A10","d":"2010-05","v":150},{"s":"A10","d":"2010-06","v":195},{"s":"A10","d":"2010-07","v":205},{"s":"A10","d":"2010-08","v":208},{"s":"A10","d":"2010-09","v":195},{"s":"A10","d":"2010-10","v":180},{"s":"A10","d":"2010-11","v":170},{"s":"A10","d":"2010-12","v":172},
{"s":"A10","d":"2011-01","v":180},{"s":"A10","d":"2011-02","v":185},{"s":"A10","d":"2011-03","v":200},{"s":"A10","d":"2011-04","v":232},{"s":"A10","d":"2011-05","v":225},{"s":"A10","d":"2011-06","v":228},{"s":"A10","d":"2011-07","v":240},{"s":"A10","d":"2011-08","v":258},{"s":"A10","d":"2011-09","v":245},{"s":"A10","d":"2011-10","v":235},{"s":"A10","d":"2011-11","v":240},{"s":"A10","d":"2011-12","v":258},
{"s":"A10","d":"2012-01","v":245},{"s":"A10","d":"2012-02","v":222},{"s":"A10","d":"2012-03","v":218},{"s":"A10","d":"2012-04","v":200},{"s":"A10","d":"2012-05","v":210},{"s":"A10","d":"2012-06","v":220},{"s":"A10","d":"2012-07","v":195},{"s":"A10","d":"2012-08","v":180},{"s":"A10","d":"2012-09","v":180},{"s":"A10","d":"2012-10","v":195},{"s":"A10","d":"2012-11","v":190},{"s":"A10","d":"2012-12","v":185},
{"s":"A10","d":"2013-01","v":170},{"s":"A10","d":"2013-02","v":160},{"s":"A10","d":"2013-03","v":140},{"s":"A10","d":"2013-04","v":120},{"s":"A10","d":"2013-05","v":118},{"s":"A10","d":"2013-06","v":120},{"s":"A10","d":"2013-07","v":122},{"s":"A10","d":"2013-08","v":125},{"s":"A10","d":"2013-09","v":155},{"s":"A10","d":"2013-10","v":145},{"s":"A10","d":"2013-11","v":140},{"s":"A10","d":"2013-12","v":150},
{"s":"A10","d":"2014-01","v":150},{"s":"A10","d":"2014-02","v":148},{"s":"A10","d":"2014-03","v":180},{"s":"A10","d":"2014-04","v":200},{"s":"A10","d":"2014-05","v":205},{"s":"A10","d":"2014-06","v":175},{"s":"A10","d":"2014-07","v":165},{"s":"A10","d":"2014-08","v":180},{"s":"A10","d":"2014-09","v":195},{"s":"A10","d":"2014-10","v":225},{"s":"A10","d":"2014-11","v":185},{"s":"A10","d":"2014-12","v":165},
{"s":"A10","d":"2015-01","v":150},{"s":"A10","d":"2015-02","v":140},{"s":"A10","d":"2015-03","v":100},{"s":"A10","d":"2015-04","v":85},{"s":"A10","d":"2015-05","v":78},{"s":"A10","d":"2015-06","v":72},{"s":"A10","d":"2015-07","v":70},{"s":"A10","d":"2015-08","v":72},{"s":"A10","d":"2015-09","v":100},{"s":"A10","d":"2015-10","v":95},{"s":"A10","d":"2015-11","v":68},{"s":"A10","d":"2015-12","v":62},
{"s":"A10","d":"2016-01","v":70},{"s":"A10","d":"2016-02","v":82},{"s":"A10","d":"2016-03","v":85},{"s":"A10","d":"2016-04","v":65},{"s":"A10","d":"2016-05","v":68},{"s":"A10","d":"2016-06","v":58},{"s":"A10","d":"2016-07","v":60},
{"s":"A10","d":"1997-01-16","v":72},{"s":"A10","d":"1997-02-16","v":58},{"s":"A10","d":"1997-03-16","v":70},{"s":"A10","d":"1997-04-16","v":48},{"s":"A10","d":"1997-05-16","v":40},{"s":"A10","d":"1997-06-16","v":28},{"s":"A10","d":"1997-07-16","v":18},{"s":"A10","d":"1997-08-16","v":24},{"s":"A10","d":"1997-09-16","v":11},{"s":"A10","d":"1997-10-16","v":28},{"s":"A10","d":"1997-11-16","v":38},{"s":"A10","d":"1997-12-16","v":64},
{"s":"A10","d":"1998-01-16","v":40},{"s":"A10","d":"1998-02-16","v":18},{"s":"A10","d":"1998-03-16","v":-8},{"s":"A10","d":"1998-04-16","v":8},{"s":"A10","d":"1998-05-16","v":27},{"s":"A10","d":"1998-06-16","v":14},{"s":"A10","d":"1998-07-16","v":-14},{"s":"A10","d":"1998-08-16","v":24},{"s":"A10","d":"1998-09-16","v":8},{"s":"A10","d":"1998-10-16","v":2},{"s":"A10","d":"1998-11-16","v":-14},{"s":"A10","d":"1998-12-16","v":-21},
{"s":"A10","d":"1999-01-16","v":-8},{"s":"A10","d":"1999-02-16","v":-24},{"s":"A10","d":"1999-03-16","v":-35},{"s":"A10","d":"1999-04-16","v":-24},{"s":"A10","d":"1999-05-16","v":-32},{"s":"A10","d":"1999-06-16","v":-21},{"s":"A10","d":"1999-07-16","v":-32},{"s":"A10","d":"1999-08-16","v":-28},{"s":"A10","d":"1999-09-16","v":-11},{"s":"A10","d":"1999-10-16","v":-24},{"s":"A10","d":"1999-11-16","v":-22},{"s":"A10","d":"1999-12-16","v":-11},
{"s":"A10","d":"2000-01-16","v":-19},{"s":"A10","d":"2000-02-16","v":14},{"s":"A10","d":"2000-03-16","v":6},{"s":"A10","d":"2000-04-16","v":-12},{"s":"A10","d":"2000-05-16","v":-24},{"s":"A10","d":"2000-06-16","v":-12},{"s":"A10","d":"2000-07-16","v":-24},{"s":"A10","d":"2000-08-16","v":-38},{"s":"A10","d":"2000-09-16","v":-24},{"s":"A10","d":"2000-10-16","v":-38},{"s":"A10","d":"2000-11-16","v":-28},{"s":"A10","d":"2000-12-16","v":2},
{"s":"A10","d":"2001-01-16","v":-14},{"s":"A10","d":"2001-02-16","v":2},{"s":"A10","d":"2001-03-16","v":-14},{"s":"A10","d":"2001-04-16","v":-29},{"s":"A10","d":"2001-05-16","v":-14},{"s":"A10","d":"2001-06-16","v":-29},{"s":"A10","d":"2001-07-16","v":-18},{"s":"A10","d":"2001-08-16","v":-29},{"s":"A10","d":"2001-09-16","v":-29},{"s":"A10","d":"2001-10-16","v":-2},{"s":"A10","d":"2001-11-16","v":-14},{"s":"A10","d":"2001-12-16","v":-2},
{"s":"A10","d":"2002-01-16","v":8},{"s":"A10","d":"2002-02-16","v":2},{"s":"A10","d":"2002-03-16","v":14},{"s":"A10","d":"2002-04-16","v":8},{"s":"A10","d":"2002-05-16","v":14},{"s":"A10","d":"2002-06-16","v":-5},{"s":"A10","d":"2002-07-16","v":21},{"s":"A10","d":"2002-08-16","v":11},{"s":"A10","d":"2002-09-16","v":21},{"s":"A10","d":"2002-10-16","v":29},{"s":"A10","d":"2002-11-16","v":21},{"s":"A10","d":"2002-12-16","v":37},
{"s":"A10","d":"2003-01-16","v":50},{"s":"A10","d":"2003-02-16","v":48},{"s":"A10","d":"2003-03-16","v":85},{"s":"A10","d":"2003-04-16","v":77},{"s":"A10","d":"2003-05-16","v":101},{"s":"A10","d":"2003-06-16","v":90},{"s":"A10","d":"2003-07-16","v":82},{"s":"A10","d":"2003-08-16","v":43},{"s":"A10","d":"2003-09-16","v":27},{"s":"A10","d":"2003-10-16","v":50},{"s":"A10","d":"2003-11-16","v":34},{"s":"A10","d":"2003-12-16","v":61},
{"s":"A10","d":"2004-01-16","v":50},{"s":"A10","d":"2004-02-16","v":34},{"s":"A10","d":"2004-03-16","v":61},{"s":"A10","d":"2004-04-16","v":21},{"s":"A10","d":"2004-05-16","v":11},{"s":"A10","d":"2004-06-16","v":38},{"s":"A10","d":"2004-07-16","v":26},{"s":"A10","d":"2004-08-16","v":50},{"s":"A10","d":"2004-09-16","v":38},{"s":"A10","d":"2004-10-16","v":56},{"s":"A10","d":"2004-11-16","v":50},{"s":"A10","d":"2004-12-16","v":46},
{"s":"A10","d":"2005-01-16","v":56},{"s":"A10","d":"2005-02-16","v":46},{"s":"A10","d":"2005-03-16","v":85},{"s":"A10","d":"2005-04-16","v":98},{"s":"A10","d":"2005-05-16","v":119},{"s":"A10","d":"2005-06-16","v":82},{"s":"A10","d":"2005-07-16","v":98},{"s":"A10","d":"2005-08-16","v":82},{"s":"A10","d":"2005-09-16","v":58},{"s":"A10","d":"2005-10-16","v":82},{"s":"A10","d":"2005-11-16","v":79},{"s":"A10","d":"2005-12-16","v":62},
{"s":"A10","d":"2006-01-16","v":79},{"s":"A10","d":"2006-02-16","v":21},{"s":"A10","d":"2006-03-16","v":45},{"s":"A10","d":"2006-04-16","v":53},{"s":"A10","d":"2006-05-16","v":76},{"s":"A10","d":"2006-06-16","v":52},{"s":"A10","d":"2006-07-16","v":68},{"s":"A10","d":"2006-08-16","v":36},{"s":"A10","d":"2006-09-16","v":50},{"s":"A10","d":"2006-10-16","v":34},{"s":"A10","d":"2006-11-16","v":56},{"s":"A10","d":"2006-12-16","v":69},
{"s":"A10","d":"2007-01-16","v":56},{"s":"A10","d":"2007-02-16","v":66},{"s":"A10","d":"2007-03-16","v":53},{"s":"A10","d":"2007-04-16","v":66},{"s":"A10","d":"2007-05-16","v":53},{"s":"A10","d":"2007-06-16","v":76},{"s":"A10","d":"2007-07-16","v":92},{"s":"A10","d":"2007-08-16","v":95},{"s":"A10","d":"2007-09-16","v":108},{"s":"A10","d":"2007-10-16","v":95},{"s":"A10","d":"2007-11-16","v":127},{"s":"A10","d":"2007-12-16","v":110},
{"s":"A10","d":"2008-01-16","v":127},{"s":"A10","d":"2008-02-16","v":143},{"s":"A10","d":"2008-03-16","v":219},{"s":"A10","d":"2008-04-16","v":187},{"s":"A10","d":"2008-05-16","v":196},{"s":"A10","d":"2008-06-16","v":216},{"s":"A10","d":"2008-07-16","v":237},{"s":"A10","d":"2008-08-16","v":201},{"s":"A10","d":"2008-09-16","v":151},{"s":"A10","d":"2008-10-16","v":122},{"s":"A10","d":"2008-11-16","v":177},{"s":"A10","d":"2008-12-16","v":158},
{"s":"A10","d":"2009-01-16","v":158},{"s":"A10","d":"2009-02-16","v":143},{"s":"A10","d":"2009-03-16","v":251},{"s":"A10","d":"2009-04-16","v":183},{"s":"A10","d":"2009-05-16","v":155},{"s":"A10","d":"2009-06-16","v":143},{"s":"A10","d":"2009-07-16","v":206},{"s":"A10","d":"2009-08-16","v":187},{"s":"A10","d":"2009-09-16","v":267},{"s":"A10","d":"2009-10-16","v":313},{"s":"A10","d":"2009-11-16","v":286},{"s":"A10","d":"2009-12-16","v":267},
{"s":"A10","d":"2010-01-16","v":256},{"s":"A10","d":"2010-02-16","v":232},{"s":"A10","d":"2010-03-16","v":177},{"s":"A10","d":"2010-04-16","v":142},{"s":"A10","d":"2010-05-16","v":130},{"s":"A10","d":"2010-06-16","v":183},{"s":"A10","d":"2010-07-16","v":214},{"s":"A10","d":"2010-08-16","v":200},{"s":"A10","d":"2010-09-16","v":187},{"s":"A10","d":"2010-10-16","v":175},{"s":"A10","d":"2010-11-16","v":161},{"s":"A10","d":"2010-12-16","v":193},
{"s":"A10","d":"2011-01-16","v":168},{"s":"A10","d":"2011-02-16","v":192},{"s":"A10","d":"2011-03-16","v":228},{"s":"A10","d":"2011-04-16","v":257},{"s":"A10","d":"2011-05-16","v":217},{"s":"A10","d":"2011-06-16","v":234},{"s":"A10","d":"2011-07-16","v":265},{"s":"A10","d":"2011-08-16","v":234},{"s":"A10","d":"2011-09-16","v":223},{"s":"A10","d":"2011-10-16","v":248},{"s":"A10","d":"2011-11-16","v":266},{"s":"A10","d":"2011-12-16","v":239},
{"s":"A10","d":"2012-01-16","v":230},{"s":"A10","d":"2012-02-16","v":212},{"s":"A10","d":"2012-03-16","v":204},{"s":"A10","d":"2012-04-16","v":195},{"s":"A10","d":"2012-05-16","v":186},{"s":"A10","d":"2012-06-16","v":226},{"s":"A10","d":"2012-07-16","v":212},{"s":"A10","d":"2012-08-16","v":173},{"s":"A10","d":"2012-09-16","v":201},{"s":"A10","d":"2012-10-16","v":177},{"s":"A10","d":"2012-11-16","v":204},{"s":"A10","d":"2012-12-16","v":181},
{"s":"A10","d":"2013-01-16","v":150},{"s":"A10","d":"2013-02-16","v":181},{"s":"A10","d":"2013-03-16","v":133},{"s":"A10","d":"2013-04-16","v":111},{"s":"A10","d":"2013-05-16","v":128},{"s":"A10","d":"2013-06-16","v":115},{"s":"A10","d":"2013-07-16","v":128},{"s":"A10","d":"2013-08-16","v":115},{"s":"A10","d":"2013-09-16","v":164},{"s":"A10","d":"2013-10-16","v":133},{"s":"A10","d":"2013-11-16","v":159},{"s":"A10","d":"2013-12-16","v":137},
{"s":"A10","d":"2014-01-16","v":155},{"s":"A10","d":"2014-02-16","v":146},{"s":"A10","d":"2014-03-16","v":204},{"s":"A10","d":"2014-04-16","v":173},{"s":"A10","d":"2014-05-16","v":215},{"s":"A10","d":"2014-06-16","v":184},{"s":"A10","d":"2014-07-16","v":155},{"s":"A10","d":"2014-08-16","v":199},{"s":"A10","d":"2014-09-16","v":184},{"s":"A10","d":"2014-10-16","v":241},{"s":"A10","d":"2014-11-16","v":217},{"s":"A10","d":"2014-12-16","v":155},
{"s":"A10","d":"2015-01-16","v":133},{"s":"A10","d":"2015-02-16","v":155},{"s":"A10","d":"2015-03-16","v":106},{"s":"A10","d":"2015-04-16","v":88},{"s":"A10","d":"2015-05-16","v":66},{"s":"A10","d":"2015-06-16","v":88},{"s":"A10","d":"2015-07-16","v":64},{"s":"A10","d":"2015-08-16","v":80},{"s":"A10","d":"2015-09-16","v":108},{"s":"A10","d":"2015-10-16","v":89},{"s":"A10","d":"2015-11-16","v":74},{"s":"A10","d":"2015-12-16","v":57},
{"s":"A10","d":"2016-01-16","v":78},{"s":"A10","d":"2016-02-16","v":91},{"s":"A10","d":"2016-03-16","v":76},{"s":"A10","d":"2016-04-16","v":78},{"s":"A10","d":"2016-05-16","v":60},{"s":"A10","d":"2016-06-16","v":66},{"s":"A10","d":"2016-07-16","v":51},
{"s":"A10","d":"2016-08","v":0},{"s":"A10","d":"2016-09","v":0},{"s":"A10","d":"2016-10","v":0},{"s":"A10","d":"2016-11","v":0},{"s":"A10","d":"2016-12","v":0},
{"s":"A10","d":"2017-01","v":0},{"s":"A10","d":"2017-02","v":0},{"s":"A10","d":"2017-03","v":0},{"s":"A10","d":"2017-04","v":0},{"s":"A10","d":"2017-05","v":0},{"s":"A10","d":"2017-06","v":0},{"s":"A10","d":"2017-07","v":0},{"s":"A10","d":"2017-08","v":0},{"s":"A10","d":"2017-09","v":0},{"s":"A10","d":"2017-10","v":0},{"s":"A10","d":"2017-11","v":0},{"s":"A10","d":"2017-12","v":0},
{"s":"A10","d":"2018-01","v":0},{"s":"A10","d":"2018-02","v":0},{"s":"A10","d":"2018-03","v":0},{"s":"A10","d":"2018-04","v":0},{"s":"A10","d":"2018-05","v":0},{"s":"A10","d":"2018-06","v":0},{"s":"A10","d":"2018-07","v":0},{"s":"A10","d":"2018-08","v":0},{"s":"A10","d":"2018-09","v":0},{"s":"A10","d":"2018-10","v":0},{"s":"A10","d":"2018-11","v":0},{"s":"A10","d":"2018-12","v":0},
{"s":"A10","d":"2019-01","v":0},{"s":"A10","d":"2019-02","v":0},{"s":"A10","d":"2019-03","v":0},{"s":"A10","d":"2019-04","v":0},{"s":"A10","d":"2019-05","v":0},{"s":"A10","d":"2019-06","v":0},{"s":"A10","d":"2019-07","v":0},{"s":"A10","d":"2019-08","v":0},{"s":"A10","d":"2019-09","v":0},{"s":"A10","d":"2019-10","v":0},{"s":"A10","d":"2019-11","v":0},{"s":"A10","d":"2019-12","v":0},
{"s":"A10","d":"2020-01","v":0},{"s":"A10","d":"2020-02","v":0},{"s":"A10","d":"2020-03","v":0},{"s":"A10","d":"2020-04","v":0},{"s":"A10","d":"2020-05","v":0},{"s":"A10","d":"2020-06","v":0},{"s":"A10","d":"2020-07","v":0},{"s":"A10","d":"2020-08","v":0},{"s":"A10","d":"2020-09","v":0},{"s":"A10","d":"2020-10","v":0},{"s":"A10","d":"2020-11","v":0},{"s":"A10","d":"2020-12","v":0},
{"s":"A10","d":"2021-01","v":0},{"s":"A10","d":"2021-02","v":0},{"s":"A10","d":"2021-03","v":0},{"s":"A10","d":"2021-04","v":0},{"s":"A10","d":"2021-05","v":0},{"s":"A10","d":"2021-06","v":0},{"s":"A10","d":"2021-07","v":0},{"s":"A10","d":"2021-08","v":0},{"s":"A10","d":"2021-09","v":0},{"s":"A10","d":"2021-10","v":0},{"s":"A10","d":"2021-11","v":0},{"s":"A10","d":"2021-12","v":0},
{"s":"A10","d":"2022-01","v":0},{"s":"A10","d":"2022-02","v":0},{"s":"A10","d":"2022-03","v":0},{"s":"A10","d":"2022-04","v":0},{"s":"A10","d":"2022-05","v":0},{"s":"A10","d":"2022-06","v":0},{"s":"A10","d":"2022-07","v":0},{"s":"A10","d":"2022-08","v":0},{"s":"A10","d":"2022-09","v":0},{"s":"A10","d":"2022-10","v":0},{"s":"A10","d":"2022-11","v":0},{"s":"A10","d":"2022-12","v":0},
{"s":"A10","d":"2023-01","v":0},
{"s":"A10","d":"2016-08-16","v":0},{"s":"A10","d":"2016-09-16","v":0},{"s":"A10","d":"2016-10-16","v":0},{"s":"A10","d":"2016-11-16","v":0},{"s":"A10","d":"2016-12-16","v":0},
{"s":"A10","d":"2017-01-16","v":0},{"s":"A10","d":"2017-02-16","v":0},{"s":"A10","d":"2017-03-16","v":0},{"s":"A10","d":"2017-04-16","v":0},{"s":"A10","d":"2017-05-16","v":0},{"s":"A10","d":"2017-06-16","v":0},{"s":"A10","d":"2017-07-16","v":0},{"s":"A10","d":"2017-08-16","v":0},{"s":"A10","d":"2017-09-16","v":0},{"s":"A10","d":"2017-10-16","v":0},{"s":"A10","d":"2017-11-16","v":0},{"s":"A10","d":"2017-12-16","v":0},
{"s":"A10","d":"2018-01-16","v":0},{"s":"A10","d":"2018-02-16","v":0},{"s":"A10","d":"2018-03-16","v":0},{"s":"A10","d":"2018-04-16","v":0},{"s":"A10","d":"2018-05-16","v":0},{"s":"A10","d":"2018-06-16","v":0},{"s":"A10","d":"2018-07-16","v":0},{"s":"A10","d":"2018-08-16","v":0},{"s":"A10","d":"2018-09-16","v":0},{"s":"A10","d":"2018-10-16","v":0},{"s":"A10","d":"2018-11-16","v":0},{"s":"A10","d":"2018-12-16","v":0},
{"s":"A10","d":"2019-01-16","v":0},{"s":"A10","d":"2019-02-16","v":0},{"s":"A10","d":"2019-03-16","v":0},{"s":"A10","d":"2019-04-16","v":0},{"s":"A10","d":"2019-05-16","v":0},{"s":"A10","d":"2019-06-16","v":0},{"s":"A10","d":"2019-07-16","v":0},{"s":"A10","d":"2019-08-16","v":0},{"s":"A10","d":"2019-09-16","v":0},{"s":"A10","d":"2019-10-16","v":0},{"s":"A10","d":"2019-11-16","v":0},{"s":"A10","d":"2019-12-16","v":0},
{"s":"A10","d":"2020-01-16","v":0},{"s":"A10","d":"2020-02-16","v":0},{"s":"A10","d":"2020-03-16","v":0},{"s":"A10","d":"2020-04-16","v":0},{"s":"A10","d":"2020-05-16","v":0},{"s":"A10","d":"2020-06-16","v":0},{"s":"A10","d":"2020-07-16","v":0},{"s":"A10","d":"2020-08-16","v":0},{"s":"A10","d":"2020-09-16","v":0},{"s":"A10","d":"2020-10-16","v":0},{"s":"A10","d":"2020-11-16","v":0},{"s":"A10","d":"2020-12-16","v":0},
{"s":"A10","d":"2021-01-16","v":0},{"s":"A10","d":"2021-02-16","v":0},{"s":"A10","d":"2021-03-16","v":0},{"s":"A10","d":"2021-04-16","v":0},{"s":"A10","d":"2021-05-16","v":0},{"s":"A10","d":"2021-06-16","v":0},{"s":"A10","d":"2021-07-16","v":0},{"s":"A10","d":"2021-08-16","v":0},{"s":"A10","d":"2021-09-16","v":0},{"s":"A10","d":"2021-10-16","v":0},{"s":"A10","d":"2021-11-16","v":0},{"s":"A10","d":"2021-12-16","v":0},
{"s":"A10","d":"2022-01-16","v":0},{"s":"A10","d":"2022-02-16","v":0},{"s":"A10","d":"2022-03-16","v":0},{"s":"A10","d":"2022-04-16","v":0},{"s":"A10","d":"2022-05-16","v":0},{"s":"A10","d":"2022-06-16","v":0},{"s":"A10","d":"2022-07-16","v":0},{"s":"A10","d":"2022-08-16","v":0},{"s":"A10","d":"2022-09-16","v":0},{"s":"A10","d":"2022-10-16","v":0},{"s":"A10","d":"2022-11-16","v":0},{"s":"A10","d":"2022-12-16","v":0}
      ]},
      "mark": {"type": "point", "filled": false, "size": 121, "opacity": 1},
      "encoding": {
        "x": {
          "field": "d", "type": "temporal",
          "scale": {"domain": [{"year": 1997, "month": 1, "date": 1}, {"year": 2023, "month": 1, "date": 8}]},
          "axis": {
            "title": null, "format": "%d/%m/%Y",
            "values": [{"year": 1997, "month": 1, "date": 1}, {"year": 1999, "month": 1, "date": 1}, {"year": 2001, "month": 1, "date": 1}, {"year": 2003, "month": 1, "date": 1}, {"year": 2005, "month": 1, "date": 1}, {"year": 2007, "month": 1, "date": 1}, {"year": 2009, "month": 1, "date": 1}, {"year": 2011, "month": 1, "date": 1}, {"year": 2013, "month": 1, "date": 1}, {"year": 2015, "month": 1, "date": 1}, {"year": 2017, "month": 1, "date": 1}, {"year": 2019, "month": 1, "date": 1}, {"year": 2021, "month": 1, "date": 1}],
            "grid": true, "gridColor": "#D9D9D9", "gridWidth": 1.5,
            "ticks": false, "domain": false, "labelOverlap": false, "labelFlush": false,
            "labelFont": "Lato", "labelFontSize": 20, "labelColor": "#595959", "labelPadding": 25
          }
        },
        "y": {
          "field": "v", "type": "quantitative",
          "scale": {"domain": [-100, 350], "nice": false, "zero": false},
          "axis": {
            "title": null,
            "values": [-100, -50, 0, 50, 100, 150, 200, 250, 300, 350],
            "labelExpr": "datum.value < 0 ? '- ' + (-datum.value) + '%' : datum.value + '%'",
            "grid": true, "gridColor": "#D9D9D9", "gridWidth": 1.5,
            "ticks": false, "domain": false, "labelOverlap": false,
            "labelFont": "Lato", "labelFontSize": 20, "labelColor": "#595959", "labelPadding": 21
          }
        },
        "color": {
          "field": "s", "type": "nominal",
          "scale": {"domain": ["A04", "A07", "A10", "0,0%"], "range": ["#FFC000", "#0070C0", "#FF0000", "#000000"]},
          "legend": {
            "title": null, "orient": "none", "legendX": 1709, "legendY": 87,
            "fillColor": "white", "padding": 18, "symbolOffset": 32, "labelOffset": 10,
            "symbolSize": 100, "symbolStrokeWidth": 2, "rowPadding": 36, "labelLimit": 600,
            "labelFont": "Lato", "labelFontSize": 28, "labelColor": "#595959",
            "labelExpr": "datum.label == '0,0%' ? datum.label : 'Rendement_' + datum.label + '\u00a0\u00a0\u00a0\u00a0\u00a0'"
          }
        },
        "shape": {
          "field": "s", "type": "nominal",
          "scale": {"domain": ["A04", "A07", "A10", "0,0%"], "range": ["M-1,0H1M0,-1V1", "M-1,0H1M0,-1V1", "M-1,0H1M0,-1V1", "M-4.9,-0.4H4.9M-4.9,-0.2H4.9M-4.9,0H4.9M-4.9,0.2H4.9M-4.9,0.4H4.9"]},
          "legend": {
            "title": null, "orient": "none", "legendX": 1709, "legendY": 87,
            "fillColor": "white", "padding": 18, "symbolOffset": 32, "labelOffset": 10,
            "symbolSize": 100, "symbolStrokeWidth": 2, "rowPadding": 36, "labelLimit": 600,
            "labelFont": "Lato", "labelFontSize": 28, "labelColor": "#595959",
            "labelExpr": "datum.label == '0,0%' ? datum.label : 'Rendement_' + datum.label + '\u00a0\u00a0\u00a0\u00a0\u00a0'"
          }
        },
        "strokeWidth": {
          "field": "s", "type": "nominal",
          "scale": {"domain": ["A04", "A07", "A10"], "range": [1.4, 2.4, 2.4]},
          "legend": null
        }
      }
    },
    {
      "data": {"values": [{}]},
      "mark": {"type": "rule", "color": "black", "strokeWidth": 5},
      "encoding": {
        "x": {"datum": {"year": 1997, "month": 1, "date": 1}, "type": "temporal"},
        "x2": {"datum": {"year": 2016, "month": 7, "date": 27}},
        "y": {"datum": 0, "type": "quantitative"}
      }
    }
  ]
}
